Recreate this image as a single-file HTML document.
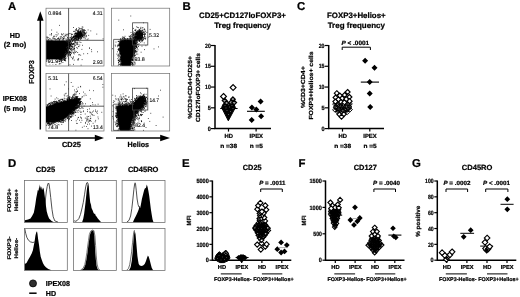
<!DOCTYPE html>
<html lang="en"><head><meta charset="utf-8"><title>Figure</title>
<style>html,body{margin:0;padding:0;background:#fff}body{width:520px;height:297px;overflow:hidden}svg{display:block;filter:blur(.35px)}text{stroke:#000;stroke-width:.22px}text.n{stroke-width:.08px}</style>
</head><body>
<svg width="520" height="297" viewBox="0 0 520 297" font-family='"Liberation Sans", sans-serif' font-weight="bold" text-rendering="geometricPrecision">
<rect width="520" height="297" fill="#fff"/>
<text x="8" y="10" font-size="11.4">A</text>
<text x="182.4" y="9.8" font-size="11.4">B</text>
<text x="297" y="10" font-size="11.4">C</text>
<text x="8" y="167.1" font-size="11.4">D</text>
<text x="182" y="167.1" font-size="11.4">E</text>
<text x="298.4" y="167.1" font-size="11.4">F</text>
<text x="412" y="167.1" font-size="11.4">G</text>
<text x="14.9" y="38.2" font-size="7.2" text-anchor="middle" textLength="10.3" lengthAdjust="spacingAndGlyphs">HD</text>
<text x="15" y="47" font-size="7.2" text-anchor="middle" textLength="22.5" lengthAdjust="spacingAndGlyphs">(2 mo)</text>
<text x="14.9" y="101.4" font-size="7.2" text-anchor="middle" textLength="24.2" lengthAdjust="spacingAndGlyphs">IPEX08</text>
<text x="14.9" y="110.5" font-size="7.2" text-anchor="middle" textLength="22.3" lengthAdjust="spacingAndGlyphs">(5 mo)</text>
<text x="34.2" y="72" font-size="7.2" text-anchor="middle" textLength="23.8" lengthAdjust="spacingAndGlyphs" transform="rotate(-90 34.2 72)">FOXP3</text>
<text x="71.5" y="147.2" font-size="7.3" text-anchor="middle" textLength="19" lengthAdjust="spacingAndGlyphs">CD25</text>
<text x="138.3" y="147.2" font-size="7.3" text-anchor="middle" textLength="21.5" lengthAdjust="spacingAndGlyphs">Helios</text>
<path d="M40.3 129.5V19" stroke="#000" stroke-width="1.5" fill="none"/>
<path d="M40.3 11.3l3.3 9.4h-6.6z" fill="#000"/>
<path d="M48 138H96" stroke="#000" stroke-width="1.5" fill="none"/>
<path d="M104 138l-9.2 3.3v-6.6z" fill="#000"/>
<path d="M116 138H161" stroke="#000" stroke-width="1.5" fill="none"/>
<path d="M170 138l-9.8 3.3v-6.6z" fill="#000"/>
<defs><filter id="bl" x="-20%" y="-20%" width="140%" height="140%"><feGaussianBlur stdDeviation="0.5"/></filter><filter id="bl2" x="-20%" y="-20%" width="140%" height="140%"><feGaussianBlur stdDeviation="0.8"/></filter><clipPath id="c1"><rect x="46" y="8.2" width="58" height="57.8"/></clipPath><clipPath id="c2"><rect x="111.6" y="8.2" width="58.3" height="57.8"/></clipPath><clipPath id="c3"><rect x="46" y="73.6" width="58" height="57.4"/></clipPath><clipPath id="c4"><rect x="111.6" y="73.6" width="58.3" height="57.4"/></clipPath></defs>
<g>
<g clip-path="url(#c1)">
<path d="M45 40.8L65.6 40.8L66.6 44L66.2 50L64.4 55L61.3 58.2L57.3 59.5L45 59.5z" fill="#000" filter="url(#bl)"/>
<path d="M66.3 44.8h.8M55.0 40.8h.8M46.5 37.3h.8M62.4 58.8h.8M56.4 59.6h.8M66.7 49.0h.8M62.8 55.9h.8M59.2 58.3h.8M65.6 51.6h.8M63.9 59.5h.8M55.5 62.2h.8M59.0 39.7h.8M53.5 59.7h.8M59.8 36.8h.8M69.5 55.1h.8M68.2 40.0h.8M64.9 54.5h.8M62.3 58.6h.8M68.4 55.3h.8M66.1 45.1h.8M53.5 38.9h.8M49.0 61.6h.8M48.1 59.3h.8M66.8 52.2h.8M67.6 44.6h.8M47.6 40.1h.8M64.1 55.7h.8M69.3 51.8h.8M70.7 39.3h.8M55.3 64.2h.8M64.4 55.6h.8M48.4 59.1h.8M62.9 58.3h.8M68.9 46.8h.8M51.2 41.3h.8M66.4 45.7h.8M51.6 60.5h.8M69.1 42.1h.8M67.6 49.1h.8M52.7 63.1h.8M68.6 40.8h.8M68.8 42.7h.8M65.7 41.1h.8M64.5 60.2h.8M67.4 45.9h.8M69.1 46.7h.8M63.7 60.4h.8M64.9 52.2h.8M61.1 41.5h.8M59.3 59.7h.8M67.6 41.8h.8M60.6 61.6h.8M63.4 57.3h.8M70.0 54.7h.8M54.2 59.9h.8M55.2 60.3h.8M59.1 40.2h.8M66.6 43.6h.8M66.4 49.7h.8M47.1 59.9h.8M68.1 45.5h.8M64.1 57.4h.8M65.6 41.8h.8M68.7 40.3h.8M65.1 54.4h.8M68.6 42.5h.8M59.4 60.0h.8M63.8 60.2h.8M67.1 52.7h.8M67.1 44.5h.8M49.0 41.1h.8M60.2 58.8h.8M66.0 44.1h.8M67.0 46.8h.8M64.3 54.1h.8M58.1 61.2h.8M67.9 52.4h.8M59.8 41.9h.8M48.8 59.9h.8M66.8 47.3h.8M50.3 61.3h.8M68.0 46.2h.8M65.1 46.7h.8M65.5 41.9h.8M62.5 56.4h.8M58.5 59.8h.8M58.4 59.9h.8M49.2 59.2h.8M68.4 55.7h.8M61.9 57.9h.8M68.0 41.5h.8M63.7 57.7h.8M48.1 61.3h.8M60.4 57.4h.8M61.0 59.9h.8M68.4 53.0h.8M63.6 54.8h.8M59.5 57.9h.8M58.5 58.3h.8M66.1 52.2h.8M65.8 47.5h.8M56.1 60.1h.8M68.0 49.0h.8M54.8 39.5h.8M65.6 49.3h.8M56.2 61.9h.8M66.8 52.4h.8M64.4 52.2h.8M65.9 49.4h.8M69.4 52.4h.8M64.5 60.4h.8M61.2 57.9h.8M68.8 44.0h.8M66.4 51.6h.8M61.1 61.3h.8M66.3 40.9h.8M66.1 44.3h.8M62.0 57.8h.8M65.5 52.7h.8M55.8 60.4h.8M54.5 58.9h.8M47.2 60.0h.8M59.7 38.9h.8M65.7 55.3h.8M54.3 60.0h.8M48.6 59.8h.8M68.0 54.3h.8M63.3 55.9h.8M62.2 57.2h.8M65.7 50.6h.8M69.3 46.9h.8M67.0 45.7h.8M69.3 44.1h.8M57.1 58.2h.8M66.6 46.8h.8M66.9 51.1h.8M54.3 59.9h.8M68.6 51.9h.8M57.4 60.5h.8M66.3 40.5h.8M46.9 59.4h.8M73.9 49.6h.8M59.7 58.9h.8M67.6 45.8h.8M55.1 61.4h.8M54.6 38.5h.8M66.0 46.5h.8M60.5 57.4h.8M54.0 58.6h.8M49.5 64.1h.8M70.1 46.0h.8M56.7 58.8h.8M55.4 60.1h.8M47.6 60.2h.8M56.0 60.3h.8M68.6 45.0h.8M65.7 42.4h.8M63.8 58.7h.8M61.0 58.5h.8M60.5 59.0h.8M67.4 43.8h.8M66.3 51.4h.8M56.4 63.5h.8M50.7 40.6h.8M50.5 60.7h.8M66.9 48.3h.8M61.9 56.5h.8M68.0 47.4h.8M51.6 40.6h.8M50.1 59.7h.8M64.8 52.9h.8M65.5 51.9h.8M67.5 47.9h.8M67.2 51.1h.8M63.5 38.0h.8M66.6 51.3h.8M62.9 59.3h.8M66.8 41.8h.8M67.0 41.6h.8M52.9 61.1h.8M54.5 60.9h.8M55.1 59.1h.8M67.6 41.5h.8M56.9 41.2h.8M62.7 56.5h.8M67.3 53.6h.8M57.7 39.8h.8M58.4 59.4h.8M65.2 42.2h.8M66.2 50.4h.8M66.1 50.1h.8M55.9 64.0h.8M71.6 50.7h.8M54.8 59.9h.8M62.5 62.5h.8M55.2 63.9h.8M64.5 51.0h.8M67.5 43.7h.8M69.9 41.2h.8M50.1 63.5h.8M64.6 57.1h.8M50.1 61.0h.8M62.2 60.2h.8M62.8 59.2h.8M48.2 39.7h.8M65.1 54.1h.8M51.9 40.2h.8M67.1 47.5h.8M66.3 43.4h.8M68.1 42.0h.8M58.3 38.4h.8M64.8 58.8h.8M55.9 39.8h.8M61.5 38.2h.8M65.8 47.8h.8M54.7 59.8h.8M48.0 60.9h.8M59.0 57.8h.8M68.2 44.6h.8M57.9 58.9h.8M50.6 60.7h.8M54.4 58.7h.8M57.6 58.8h.8M53.4 59.2h.8M58.7 64.0h.8M58.8 61.7h.8M66.6 48.2h.8M68.8 39.5h.8M58.9 61.5h.8M47.4 60.0h.8M63.8 55.7h.8M65.8 46.3h.8M67.4 48.3h.8M49.2 60.2h.8M66.1 54.0h.8M56.5 61.4h.8M48.7 41.1h.8M69.9 55.9h.8M65.6 48.7h.8M60.4 63.7h.8M67.1 43.0h.8M68.9 52.6h.8M57.4 59.2h.8M65.3 54.7h.8M61.4 56.7h.8M69.1 42.9h.8M65.3 42.3h.8M54.1 61.6h.8M57.7 59.1h.8M64.0 55.5h.8M47.9 63.5h.8M47.8 62.3h.8M66.7 47.4h.8M65.2 54.0h.8M63.8 57.6h.8M52.1 61.5h.8M66.1 51.4h.8M49.1 63.5h.8M67.9 48.1h.8M64.0 56.2h.8M64.0 57.7h.8M52.5 64.1h.8M56.6 39.4h.8M68.8 42.0h.8M65.5 53.8h.8M68.0 48.5h.8M66.1 43.9h.8M53.5 41.2h.8M66.8 45.6h.8M69.3 48.7h.8M66.8 43.2h.8M68.4 50.1h.8M47.3 60.3h.8M53.3 58.9h.8M65.8 51.7h.8M66.2 45.4h.8M65.9 53.7h.8M62.5 40.0h.8M65.4 44.1h.8M59.7 57.7h.8M66.7 48.9h.8M66.9 43.8h.8M57.5 59.8h.8M64.7 60.3h.8M63.1 54.9h.8M66.4 50.9h.8M64.4 60.5h.8M57.6 58.6h.8M55.9 61.0h.8M58.0 61.6h.8M65.3 52.4h.8M65.7 49.1h.8M61.8 57.4h.8M54.0 61.1h.8M71.2 53.6h.8M65.7 46.0h.8M64.5 59.6h.8M50.7 40.3h.8M50.2 61.1h.8M64.6 59.0h.8M60.9 58.6h.8M68.4 44.7h.8M60.2 59.4h.8M69.2 46.7h.8M62.6 59.1h.8M50.6 59.7h.8M53.5 36.8h.8M68.3 51.0h.8M67.9 40.5h.8M65.4 43.3h.8M59.7 58.2h.8M58.3 59.6h.8M65.3 60.9h.8M60.9 58.9h.8M56.0 60.5h.8M68.6 51.3h.8M66.6 54.1h.8M64.8 58.4h.8M47.2 61.0h.8M57.8 59.4h.8M47.0 60.7h.8M65.5 54.0h.8M53.7 60.7h.8M47.0 60.7h.8M57.5 59.0h.8M62.7 57.6h.8M64.4 59.0h.8M65.8 48.8h.8M61.0 60.6h.8M50.6 61.6h.8M65.9 48.2h.8M65.4 52.3h.8M66.3 42.5h.8M62.6 56.4h.8M51.4 58.5h.8M52.4 63.0h.8M66.8 43.9h.8M69.2 40.3h.8M56.6 60.3h.8M66.1 44.5h.8M60.4 60.5h.8M46.5 58.9h.8M48.1 62.6h.8M59.2 63.7h.8M62.4 57.7h.8M66.1 50.7h.8M60.6 58.2h.8M67.3 50.0h.8M69.9 41.2h.8M68.1 52.5h.8M63.7 55.1h.8M66.2 43.5h.8M65.9 41.6h.8M66.9 50.0h.8M63.4 40.6h.8M67.0 45.7h.8M46.3 59.9h.8M60.7 58.4h.8M53.4 58.8h.8M66.2 46.3h.8M64.9 55.8h.8M68.6 40.2h.8M68.9 45.5h.8M68.4 44.4h.8M61.4 58.6h.8M67.7 50.5h.8M53.9 60.1h.8M67.8 54.1h.8M67.4 53.6h.8M68.0 48.6h.8M63.0 38.9h.8M64.8 54.8h.8M65.3 44.2h.8M61.2 62.0h.8M62.8 56.6h.8M47.5 40.5h.8M66.9 45.1h.8M66.4 42.3h.8M65.5 54.8h.8M72.2 46.8h.8M46.4 61.4h.8M65.3 56.4h.8M48.3 37.7h.8M46.8 59.0h.8M63.6 56.3h.8M64.3 56.4h.8M53.4 60.0h.8M50.7 61.9h.8M63.8 55.5h.8M66.2 45.5h.8M49.5 62.1h.8M66.0 52.9h.8M66.1 45.5h.8M52.6 38.5h.8M63.2 57.4h.8M71.9 39.1h.8M52.6 37.7h.8M47.9 60.0h.8M69.3 48.2h.8M59.3 61.3h.8M49.0 59.3h.8M58.9 59.3h.8M63.4 56.4h.8M69.3 53.4h.8M66.2 53.4h.8M65.7 52.2h.8M66.7 42.4h.8M47.4 58.9h.8M64.6 54.5h.8M47.8 59.2h.8M62.8 56.9h.8M67.8 49.8h.8M67.7 41.9h.8M51.3 60.6h.8M52.7 62.9h.8M47.2 59.1h.8M49.2 61.8h.8M71.4 40.0h.8M67.8 45.7h.8M65.3 56.5h.8M67.9 48.3h.8M60.3 57.8h.8M73.6 48.3h.8M66.8 40.7h.8M69.3 40.6h.8M59.5 59.2h.8M63.9 56.6h.8M63.3 36.4h.8M69.2 44.8h.8M66.4 49.9h.8M65.2 55.0h.8M60.7 59.7h.8M70.1 45.0h.8M53.8 59.7h.8M65.4 50.5h.8M66.1 45.0h.8M59.9 59.8h.8M65.7 42.0h.8M55.2 60.0h.8M65.2 54.8h.8M70.8 52.1h.8M50.2 59.6h.8M55.8 60.1h.8M68.2 48.6h.8M67.2 51.3h.8M67.8 48.1h.8M67.5 44.2h.8M66.4 43.5h.8M46.3 60.9h.8M58.9 40.6h.8M61.0 59.4h.8M66.3 58.0h.8M67.8 46.0h.8M50.5 59.0h.8M64.6 53.4h.8M66.2 44.3h.8M49.7 38.8h.8M61.7 60.0h.8M58.2 58.6h.8M49.0 60.1h.8M64.9 58.3h.8M56.0 59.5h.8M58.4 58.8h.8M64.8 57.2h.8M65.7 51.1h.8M66.9 45.4h.8M52.6 60.3h.8M70.3 49.4h.8M67.8 42.9h.8M66.5 41.2h.8M50.7 40.0h.8M69.0 46.7h.8M50.0 58.9h.8M65.8 50.9h.8M61.1 57.2h.8M70.2 44.8h.8M66.6 48.2h.8M67.3 42.7h.8M53.2 62.2h.8M64.1 54.0h.8M72.9 44.4h.8M70.3 52.5h.8M63.6 44.1h.8M71.6 44.6h.8M72.0 40.7h.8M69.4 43.4h.8M63.3 38.5h.8M74.0 41.6h.8M69.7 41.5h.8M71.2 42.8h.8M72.6 46.5h.8M65.7 48.6h.8M66.5 45.5h.8M72.9 36.9h.8M68.9 42.3h.8M71.4 38.6h.8M66.4 49.1h.8M68.7 43.6h.8M72.0 38.5h.8M69.7 44.8h.8M70.7 41.1h.8M78.4 46.4h.8M73.2 49.2h.8M66.9 52.5h.8M69.7 44.7h.8M68.1 42.8h.8M65.7 45.8h.8M76.9 43.0h.8M68.3 43.1h.8M65.8 42.3h.8M77.5 40.5h.8M69.8 42.0h.8M70.1 49.4h.8M70.9 39.1h.8M71.2 38.2h.8M70.5 39.4h.8M70.3 45.8h.8M74.0 44.9h.8M71.2 49.6h.8M74.6 40.0h.8M70.3 40.3h.8M67.3 40.6h.8M71.2 43.8h.8M76.6 42.4h.8M72.3 40.5h.8M69.1 43.2h.8M67.1 38.1h.8M69.6 37.6h.8M69.0 44.9h.8M72.4 49.0h.8M73.5 47.7h.8M73.1 39.2h.8M74.5 45.7h.8M69.7 44.6h.8M68.9 45.1h.8M69.6 44.6h.8M76.5 44.4h.8M71.3 43.7h.8M72.5 40.6h.8M69.6 49.0h.8M69.6 48.2h.8M71.4 50.6h.8M69.1 48.3h.8M73.1 37.2h.8M73.4 37.6h.8M66.6 49.9h.8M72.2 41.2h.8M62.6 49.9h.8M68.8 43.3h.8M65.8 39.8h.8M72.5 49.5h.8M74.5 38.6h.8M69.1 46.3h.8M75.3 42.6h.8M67.2 46.9h.8M74.0 46.7h.8M75.3 41.7h.8M73.4 39.4h.8M74.4 38.4h.8M73.6 44.8h.8M66.2 44.1h.8M65.4 48.5h.8M69.6 42.8h.8M67.6 36.9h.8M70.6 43.8h.8M71.3 46.2h.8M75.0 37.8h.8M66.3 44.4h.8M72.0 44.7h.8M69.9 48.2h.8M69.1 48.2h.8M72.8 43.6h.8M76.6 37.2h.8M71.0 45.1h.8M70.4 37.9h.8M69.8 40.9h.8M75.3 45.3h.8M70.4 43.1h.8M64.9 35.6h.8M74.1 42.9h.8M70.2 42.1h.8M67.9 44.9h.8M74.0 40.1h.8M69.3 33.6h.8M69.7 45.4h.8M67.0 39.4h.8M71.1 48.3h.8M64.4 44.4h.8M66.0 45.0h.8M73.7 43.3h.8M67.3 52.4h.8M67.4 43.6h.8M75.5 39.0h.8M65.3 45.1h.8M66.1 42.9h.8M71.3 46.6h.8M68.7 39.1h.8M77.0 33.8h.8M70.9 43.3h.8M72.2 40.7h.8M76.3 47.6h.8M68.5 40.5h.8M69.8 40.6h.8M69.8 44.9h.8M70.9 41.9h.8M72.7 40.8h.8M68.3 49.1h.8M71.9 47.5h.8M69.7 46.6h.8M65.8 35.9h.8M63.5 44.6h.8M70.9 35.1h.8M75.6 43.9h.8M73.4 43.9h.8M68.9 44.8h.8M72.1 44.0h.8M72.3 41.2h.8M67.2 43.9h.8M68.3 38.3h.8M65.8 45.7h.8M68.2 44.3h.8M61.6 49.5h.8M71.4 46.1h.8M63.7 47.9h.8M73.0 43.5h.8M76.4 43.0h.8M68.6 47.8h.8M67.8 42.4h.8M73.9 37.9h.8M67.0 44.7h.8M67.9 57.8h.8M73.8 60.1h.8M74.0 48.5h.8M77.0 48.2h.8M69.8 51.0h.8M72.2 58.9h.8M69.1 54.0h.8M71.9 44.7h.8M66.7 50.7h.8M73.9 53.9h.8M74.3 52.3h.8M69.8 54.5h.8M67.2 44.2h.8M70.4 43.7h.8M69.5 47.7h.8M69.3 51.7h.8M68.1 49.6h.8M63.8 52.8h.8M67.8 54.3h.8M58.4 47.4h.8M73.2 37.9h.8M70.3 52.5h.8M72.5 43.3h.8M73.1 52.9h.8M67.3 56.3h.8M71.8 52.1h.8M69.8 55.2h.8M72.5 58.6h.8M74.2 48.4h.8M70.9 57.3h.8M70.2 54.2h.8M74.5 51.0h.8M60.8 52.8h.8M73.0 52.8h.8M68.3 59.0h.8M71.3 48.4h.8M68.5 54.1h.8M66.7 46.2h.8M81.7 59.6h.8M77.1 59.9h.8M74.9 42.2h.8M77.8 59.2h.8M74.4 40.6h.8M78.0 59.9h.8M69.6 52.7h.8M75.8 51.5h.8M77.3 52.5h.8M75.3 52.5h.8M64.8 46.2h.8M87.3 53.6h.8M78.3 58.6h.8M80.3 55.2h.8M69.1 52.1h.8M62.7 50.9h.8M76.4 39.4h.8M73.0 56.8h.8M78.4 46.6h.8M68.8 41.1h.8M67.1 55.1h.8M82.0 45.3h.8M78.7 54.5h.8M69.6 64.8h.8M59.8 51.6h.8M73.1 64.4h.8M80.7 65.2h.8M72.7 57.7h.8M78.6 55.0h.8M73.7 50.9h.8M70.0 44.8h.8M81.5 49.4h.8M49.7 43.1h.8M77.5 42.1h.8M102.7 38.8h.8M74.4 31.3h.8M77.7 34.9h.8M83.4 30.0h.8M89.1 48.3h.8M89.2 47.9h.8M97.2 51.8h.8M96.4 34.1h.8M78.0 31.5h.8M91.0 49.7h.8M71.7 46.8h.8M62.8 38.9h.8M86.7 39.6h.8M83.3 53.8h.8M82.5 27.2h.8M87.7 38.9h.8M79.6 33.4h.8M59.1 25.4h.8M73.2 27.5h.8M46.3 53.4h.8M62.2 34.8h.8M91.3 51.7h.8M75.7 30.7h.8M62.7 41.8h.8M77.6 39.8h.8M58.3 38.1h.8M55.6 34.7h.8M53.6 36.6h.8M62.6 39.9h.8M67.0 37.6h.8M46.3 40.0h.8M61.3 34.7h.8M51.0 33.9h.8M75.1 40.5h.8M58.1 38.2h.8M51.3 30.0h.8M46.6 36.8h.8M67.8 33.8h.8M65.6 34.2h.8M63.3 33.8h.8M51.1 35.0h.8M66.9 34.9h.8M56.7 35.1h.8M54.4 38.8h.8M53.7 36.0h.8M49.6 34.8h.8M58.7 39.9h.8M70.5 33.6h.8M56.5 32.2h.8M55.8 36.6h.8M62.3 37.7h.8M51.0 33.6h.8M47.9 40.3h.8M49.3 38.8h.8M59.8 38.7h.8M46.8 37.5h.8M60.8 36.5h.8M61.3 33.8h.8M67.9 33.9h.8M57.0 38.5h.8M61.7 40.2h.8M57.8 33.9h.8M60.5 37.7h.8M46.7 38.6h.8M66.5 34.5h.8M64.3 36.7h.8M64.7 35.2h.8M63.8 38.1h.8" stroke="#000" stroke-width=".8" fill="none"/>
<path d="M78.6 34.2h.8M79.2 36.2h.8M82.0 32.2h.8M81.0 33.5h.8M84.7 33.6h.8M81.1 34.2h.8M75.8 33.1h.8M79.9 32.3h.8M78.4 37.6h.8M78.3 32.6h.8M81.3 32.4h.8M79.9 31.4h.8M74.6 36.3h.8M78.4 30.2h.8M77.3 38.2h.8M84.4 30.3h.8M76.1 35.6h.8M78.7 38.6h.8M79.5 32.1h.8M78.3 29.9h.8M78.9 34.7h.8M77.2 33.7h.8M75.2 32.8h.8M78.8 32.5h.8M81.1 35.2h.8M75.8 34.0h.8M79.7 35.8h.8M75.6 36.9h.8M78.1 38.9h.8M77.9 31.5h.8M77.5 35.8h.8M77.7 35.7h.8M80.0 34.5h.8M79.4 37.8h.8M80.5 32.8h.8M77.7 33.9h.8M75.0 36.6h.8M78.5 34.1h.8M73.0 31.4h.8M75.5 39.1h.8M75.0 38.8h.8M80.4 33.4h.8M79.7 36.1h.8M78.6 34.8h.8M80.8 33.3h.8M82.2 29.7h.8M77.5 35.0h.8M78.4 33.4h.8M84.0 32.7h.8M74.3 37.9h.8M81.7 35.6h.8M78.8 32.9h.8M79.2 31.3h.8M77.6 32.7h.8M82.8 33.7h.8M83.5 30.7h.8M78.0 34.2h.8M80.3 31.1h.8M80.1 33.1h.8M80.8 34.0h.8M76.4 35.4h.8M73.6 36.2h.8M78.5 37.4h.8M78.1 35.9h.8M76.7 33.1h.8M82.4 37.0h.8M81.6 35.8h.8M81.3 35.4h.8M81.8 28.7h.8M75.5 33.5h.8M78.4 34.2h.8M77.6 36.8h.8M84.8 34.0h.8M83.2 32.1h.8M81.5 36.4h.8M82.3 34.8h.8M77.6 34.6h.8M78.7 37.9h.8M77.0 36.5h.8M79.4 34.2h.8M78.6 36.0h.8M77.3 36.2h.8M81.3 31.7h.8M83.0 34.9h.8M82.1 30.4h.8M84.1 33.6h.8M83.4 34.0h.8M79.6 36.6h.8M78.8 33.7h.8M77.0 35.0h.8M76.7 32.4h.8M78.1 32.0h.8M81.9 36.0h.8M83.6 35.4h.8M85.3 36.1h.8M77.7 33.6h.8M77.4 33.5h.8M79.4 28.8h.8M80.0 36.3h.8M81.3 35.2h.8M75.9 35.8h.8M79.1 35.8h.8M82.0 36.3h.8M76.3 37.3h.8M85.7 33.2h.8M80.5 35.8h.8M79.9 37.4h.8M78.6 37.0h.8M78.6 33.2h.8M79.3 34.4h.8M77.5 36.2h.8M78.2 38.1h.8M81.3 35.6h.8M80.9 34.1h.8M75.4 36.6h.8M78.4 34.0h.8M78.3 34.3h.8M76.8 34.2h.8M76.6 33.8h.8M81.6 33.6h.8M81.0 35.3h.8M79.3 37.2h.8M74.1 36.7h.8M80.9 37.5h.8M82.5 34.3h.8M80.1 32.7h.8M77.9 34.0h.8M77.8 32.7h.8M77.7 34.5h.8M79.3 33.1h.8M80.3 35.0h.8M81.0 35.3h.8M76.9 36.4h.8M79.8 36.8h.8M78.2 36.0h.8M75.5 36.4h.8M77.2 35.9h.8M77.4 35.7h.8M78.3 32.8h.8M80.0 32.7h.8M84.9 33.3h.8M80.5 33.9h.8M82.4 33.1h.8M75.9 38.5h.8M76.8 30.5h.8M76.4 39.8h.8M78.9 33.1h.8M73.6 36.0h.8M79.9 28.7h.8M82.8 37.8h.8M78.2 33.1h.8M80.8 35.0h.8M79.6 33.9h.8M75.9 38.2h.8M81.1 34.2h.8M80.2 34.2h.8M84.8 38.9h.8M77.9 36.1h.8M74.2 33.8h.8M80.5 37.0h.8M76.1 35.6h.8M76.0 33.4h.8M75.7 37.2h.8M77.6 35.2h.8M78.2 38.5h.8M83.2 29.9h.8M76.7 39.3h.8M84.4 35.7h.8M76.7 36.1h.8M74.8 38.6h.8M73.8 34.1h.8M81.1 34.3h.8M73.2 36.8h.8M81.8 26.9h.8M79.9 38.8h.8M83.2 32.2h.8M77.5 36.7h.8M77.7 36.4h.8M81.4 33.2h.8M83.0 35.0h.8M76.5 35.8h.8M76.9 37.0h.8M73.6 36.1h.8M74.2 39.2h.8M78.1 38.3h.8M81.1 34.3h.8M75.1 33.5h.8M76.3 36.6h.8M78.4 34.7h.8M80.4 37.1h.8M80.2 30.9h.8M79.4 32.3h.8M79.6 34.7h.8M81.9 34.6h.8M75.9 36.5h.8M79.5 33.8h.8M80.9 30.0h.8M80.2 34.2h.8M77.5 35.4h.8M78.5 35.7h.8M77.1 35.2h.8M84.2 29.9h.8M81.3 35.6h.8M77.6 37.5h.8M74.5 31.7h.8M75.4 29.9h.8M79.3 36.2h.8M83.7 32.9h.8M82.0 34.1h.8M80.0 36.5h.8M78.2 35.9h.8M76.8 35.5h.8M77.5 31.1h.8M76.2 34.3h.8M80.8 38.1h.8M76.4 36.0h.8M77.1 34.1h.8M78.0 37.6h.8M77.4 34.0h.8M75.0 35.4h.8M79.7 31.8h.8M73.1 36.5h.8M79.2 35.3h.8M79.6 36.1h.8M74.5 35.3h.8M77.9 35.5h.8M73.5 37.9h.8M75.9 39.0h.8M81.1 37.1h.8M83.8 32.4h.8M76.7 33.6h.8M78.3 37.5h.8M79.5 34.3h.8M75.0 36.6h.8M82.4 31.5h.8M78.9 28.8h.8M80.7 30.8h.8M74.8 36.5h.8M78.5 38.8h.8M77.6 34.9h.8M76.2 39.6h.8M84.1 34.5h.8M71.0 39.3h.8M76.1 29.0h.8M78.7 38.4h.8M84.5 32.7h.8M82.6 35.5h.8M75.6 29.7h.8M86.3 32.2h.8M75.8 33.7h.8M87.7 29.9h.8M80.6 32.1h.8M78.6 34.9h.8M78.5 27.7h.8M84.8 30.5h.8M82.4 36.1h.8M76.9 39.2h.8M73.3 39.5h.8M76.3 40.6h.8M81.3 28.4h.8M77.5 32.8h.8M71.7 39.4h.8M83.8 35.7h.8M74.9 36.5h.8M83.4 31.4h.8M88.3 35.4h.8M78.4 32.0h.8M77.8 38.6h.8M76.8 36.5h.8M76.6 30.3h.8M75.1 35.9h.8M74.5 38.7h.8M75.2 35.6h.8M86.1 35.4h.8M75.7 34.8h.8M68.0 35.3h.8M83.9 31.3h.8M71.7 34.5h.8M81.9 31.4h.8M81.7 36.3h.8M71.7 34.3h.8M78.0 37.3h.8M76.4 36.0h.8M77.4 32.1h.8M82.1 36.2h.8M71.5 36.7h.8M74.7 35.1h.8M78.4 39.2h.8M72.6 40.6h.8M74.6 34.9h.8M68.0 34.2h.8M80.4 39.1h.8M75.1 40.0h.8M73.4 40.3h.8M75.7 35.5h.8M70.8 38.3h.8M78.1 40.3h.8M80.9 34.9h.8M75.4 38.1h.8M83.1 36.9h.8M84.7 37.9h.8M75.0 33.8h.8M86.1 36.7h.8M81.4 33.1h.8M77.6 34.4h.8M76.3 36.6h.8M77.2 31.5h.8M79.9 34.6h.8M77.3 37.0h.8M76.7 37.4h.8M82.8 30.4h.8M79.9 31.8h.8M77.1 36.9h.8M77.1 40.0h.8M71.3 39.4h.8M77.8 35.9h.8M75.1 33.5h.8M80.3 39.1h.8M79.8 33.5h.8M70.9 36.8h.8M79.8 32.0h.8M80.5 42.5h.8M69.6 44.8h.8M65.6 38.8h.8M90.4 30.9h.8M81.4 36.1h.8M80.2 31.6h.8M70.5 37.4h.8M79.7 35.8h.8M81.6 32.5h.8M80.4 33.5h.8M72.0 37.4h.8M78.7 34.4h.8M75.2 37.1h.8M81.7 29.8h.8M67.4 42.9h.8M70.6 46.3h.8M74.7 37.6h.8M76.6 36.7h.8M80.6 37.9h.8M72.1 37.7h.8M75.0 36.3h.8M76.1 28.8h.8M68.5 41.9h.8M79.9 35.9h.8M84.1 37.0h.8M72.8 37.5h.8M79.4 36.4h.8M79.8 35.1h.8M77.5 44.6h.8M78.0 36.8h.8M73.9 39.3h.8M77.9 39.6h.8M80.1 31.5h.8M77.9 35.7h.8M81.3 38.5h.8M79.4 45.0h.8M71.4 34.4h.8M78.1 30.2h.8M83.5 32.9h.8M77.4 38.7h.8M76.7 33.2h.8M79.4 42.0h.8M78.9 35.9h.8M77.3 44.0h.8M79.6 33.0h.8M76.5 34.2h.8M84.7 34.3h.8M74.1 36.6h.8M76.0 37.3h.8" stroke="#000" stroke-width=".8" fill="none"/>
<ellipse cx="79" cy="34.9" rx="2.8" ry="2.0" transform="rotate(-35 79 34.9)" fill="#000" filter="url(#bl)" opacity=".9"/>
</g>
<rect x="46" y="8.2" width="58" height="57.8" fill="none" stroke="#6e6e6e" stroke-width=".7"/>
<path d="M68.6 8.2L68.6 66" stroke="#333" stroke-width=".8" fill="none"/>
<path d="M46 40.3L104 40.3" stroke="#333" stroke-width=".8" fill="none"/>
<rect x="47.2" y="59.4" width="11.4" height="4.8" fill="#fff" stroke="none" stroke-width=".7"/>
<text class="n" x="48.2" y="15" font-size="5.4" font-weight="normal" fill="#000" textLength="13.2" lengthAdjust="spacingAndGlyphs">0.894</text>
<text class="n" x="102.5" y="15" font-size="5.4" font-weight="normal" fill="#000" text-anchor="end" textLength="9.8" lengthAdjust="spacingAndGlyphs">4.31</text>
<text class="n" x="47.8" y="63.4" font-size="5.4" font-weight="normal" fill="#000" textLength="10.4" lengthAdjust="spacingAndGlyphs">91.9</text>
<text class="n" x="102.7" y="63.6" font-size="5.4" font-weight="normal" fill="#000" text-anchor="end" textLength="10" lengthAdjust="spacingAndGlyphs">2.93</text>
</g>
<g>
<g clip-path="url(#c2)">
<path d="M119.4 44.5L120.2 41.2L123.6 40.2L131 40.2L134.2 41.4L134.9 45.5L133.7 52L131.6 58.5L130.4 67L122.2 67L120.6 55z" fill="#000" filter="url(#bl)"/>
<path d="M137.9 46.4h.8M127.2 38.7h.8M122.1 40.0h.8M133.8 50.0h.8M134.3 53.2h.8M120.8 40.8h.8M122.1 58.8h.8M123.2 40.6h.8M120.8 53.1h.8M123.7 39.7h.8M122.2 65.4h.8M121.7 54.9h.8M120.7 60.7h.8M121.6 39.7h.8M117.8 41.4h.8M128.1 40.4h.8M130.4 39.6h.8M119.5 45.9h.8M135.9 44.7h.8M117.9 44.2h.8M132.0 63.2h.8M120.3 47.7h.8M119.5 58.6h.8M121.1 53.0h.8M121.9 63.5h.8M132.5 59.0h.8M118.4 57.0h.8M133.9 45.9h.8M121.0 51.8h.8M134.1 59.5h.8M134.5 62.2h.8M131.7 63.0h.8M119.5 47.5h.8M121.0 55.0h.8M118.9 53.6h.8M121.3 63.6h.8M122.5 64.5h.8M134.9 63.9h.8M119.8 39.9h.8M131.2 57.9h.8M121.4 65.1h.8M131.9 57.2h.8M136.1 51.7h.8M121.1 58.4h.8M130.4 39.7h.8M124.3 39.3h.8M134.0 49.3h.8M121.2 53.5h.8M122.3 65.3h.8M125.7 39.5h.8M133.1 50.2h.8M134.5 50.1h.8M119.6 42.3h.8M127.2 39.5h.8M127.1 40.0h.8M121.3 40.9h.8M131.3 59.4h.8M117.1 46.7h.8M133.8 53.4h.8M134.7 39.3h.8M122.0 40.9h.8M130.9 39.6h.8M120.3 42.7h.8M130.6 60.5h.8M132.3 60.2h.8M136.7 51.7h.8M125.3 40.5h.8M121.2 50.4h.8M132.6 55.2h.8M119.6 49.0h.8M136.1 54.1h.8M133.8 47.3h.8M131.7 55.1h.8M119.9 53.5h.8M132.9 54.7h.8M119.6 44.5h.8M116.5 54.1h.8M135.4 45.6h.8M120.6 58.9h.8M134.2 39.6h.8M124.6 39.4h.8M128.6 41.0h.8M131.6 56.3h.8M121.4 59.6h.8M118.3 64.6h.8M118.1 45.9h.8M133.1 49.4h.8M130.8 40.0h.8M137.8 46.4h.8M119.9 61.9h.8M120.3 42.5h.8M120.6 59.6h.8M120.8 53.2h.8M123.5 37.7h.8M119.9 43.5h.8M131.5 39.7h.8M114.8 45.1h.8M133.7 53.9h.8M120.3 41.0h.8M121.7 63.8h.8M130.5 37.7h.8M128.5 39.1h.8M121.0 57.5h.8M131.6 59.8h.8M128.2 41.0h.8M135.1 43.7h.8M135.9 43.5h.8M134.1 40.9h.8M136.3 42.0h.8M132.4 59.9h.8M119.9 49.8h.8M133.6 56.0h.8M124.0 38.8h.8M132.9 41.7h.8M120.8 63.1h.8M119.2 48.4h.8M120.2 40.8h.8M132.1 56.1h.8M133.3 52.1h.8M120.2 54.1h.8M120.2 39.3h.8M124.7 40.4h.8M134.1 40.1h.8M120.4 56.5h.8M135.1 43.5h.8M125.3 40.0h.8M131.6 41.5h.8M130.2 40.4h.8M127.0 40.4h.8M131.4 59.0h.8M136.7 44.4h.8M134.3 47.7h.8M119.6 51.1h.8M120.3 64.6h.8M119.9 57.5h.8M134.4 51.4h.8M135.1 51.5h.8M130.7 40.5h.8M118.0 49.3h.8M120.7 57.4h.8M120.8 41.1h.8M131.6 38.5h.8M134.8 50.6h.8M119.6 49.1h.8M120.7 61.1h.8M126.1 41.3h.8M122.5 65.4h.8M121.7 61.8h.8M121.2 57.8h.8M134.4 41.0h.8M134.1 50.0h.8M122.2 64.7h.8M130.4 39.1h.8M119.4 51.2h.8M120.2 45.5h.8M119.5 49.1h.8M132.2 60.8h.8M131.9 55.1h.8M122.3 64.1h.8M128.1 40.2h.8M121.4 58.2h.8M117.4 55.9h.8M122.9 39.5h.8M133.4 56.2h.8M124.7 41.1h.8M133.4 42.0h.8M133.2 53.1h.8M118.6 50.1h.8M124.4 40.5h.8M119.6 51.0h.8M135.8 46.7h.8M120.8 42.3h.8M135.0 48.5h.8M120.7 58.6h.8M121.9 59.7h.8M119.4 49.6h.8M133.5 55.0h.8M131.1 62.5h.8M129.9 64.9h.8M118.8 49.3h.8M122.3 64.5h.8M122.1 64.7h.8M133.8 41.2h.8M117.9 54.3h.8M128.7 40.3h.8M121.1 59.5h.8M120.2 38.8h.8M125.0 40.8h.8M119.0 51.1h.8M134.4 42.1h.8M125.2 39.6h.8M132.3 56.5h.8M118.7 60.3h.8M134.4 52.1h.8M131.6 59.2h.8M120.2 57.2h.8M121.4 62.0h.8M118.6 45.2h.8M134.4 43.3h.8M117.8 55.3h.8M122.1 63.8h.8M134.3 45.6h.8M123.0 65.2h.8M134.9 52.1h.8M120.5 39.3h.8M134.0 39.2h.8M131.8 56.5h.8M118.2 45.2h.8M130.3 65.2h.8M118.5 50.4h.8M128.7 36.2h.8M128.2 39.0h.8M120.4 43.3h.8M121.0 63.2h.8M125.0 40.4h.8M130.2 38.3h.8M133.9 42.0h.8M118.5 59.4h.8M119.9 46.8h.8M133.3 39.3h.8M117.9 60.5h.8M126.9 39.6h.8M121.7 60.2h.8M134.0 52.2h.8M133.4 48.5h.8M124.6 40.9h.8M120.4 63.0h.8M120.1 52.1h.8M119.7 43.1h.8M120.3 59.4h.8M121.2 58.9h.8M133.3 43.8h.8M120.3 48.4h.8M123.0 65.5h.8M118.6 49.9h.8M122.5 36.7h.8M121.7 64.2h.8M119.0 44.8h.8M129.4 39.1h.8M124.4 40.6h.8M120.5 65.2h.8M130.4 58.4h.8M132.9 41.3h.8M135.1 55.6h.8M133.2 41.2h.8M131.8 59.7h.8M134.9 46.1h.8M119.2 52.3h.8M134.2 44.7h.8M130.0 38.8h.8M131.9 59.4h.8M121.8 60.9h.8M134.2 56.8h.8M135.5 47.2h.8M120.4 51.3h.8M119.3 61.6h.8M128.6 40.9h.8M134.5 45.2h.8M128.9 39.2h.8M120.3 54.3h.8M121.7 38.2h.8M122.5 62.5h.8M119.1 44.4h.8M132.2 59.9h.8M118.9 45.0h.8M132.4 60.2h.8M131.7 55.4h.8M133.8 55.8h.8M135.4 44.8h.8M134.1 53.8h.8M134.5 50.1h.8M120.9 64.4h.8M121.0 57.9h.8M121.0 59.0h.8M120.5 39.9h.8M134.3 56.9h.8M129.7 40.3h.8M137.0 48.0h.8M120.6 50.1h.8M120.8 53.4h.8M134.7 51.0h.8M129.7 40.3h.8M133.8 48.9h.8M135.6 48.0h.8M121.6 58.9h.8M122.0 60.0h.8M133.1 40.4h.8M119.0 42.9h.8M125.8 38.9h.8M120.3 53.6h.8M130.0 61.9h.8M122.7 63.3h.8M136.0 47.5h.8M117.9 49.2h.8M120.7 61.5h.8M132.8 53.2h.8M131.7 55.3h.8M131.9 58.3h.8M119.7 52.8h.8M134.3 50.1h.8M134.7 46.2h.8M134.5 43.2h.8M134.6 48.4h.8M121.5 61.6h.8M121.9 62.0h.8M134.2 41.0h.8M125.0 38.7h.8M133.0 40.2h.8M135.3 43.5h.8M131.7 59.8h.8M119.3 60.3h.8M122.0 60.6h.8M119.9 59.4h.8M117.9 41.3h.8M129.7 40.0h.8M119.6 50.8h.8M130.1 38.1h.8M135.9 45.9h.8M135.1 42.9h.8M117.0 45.3h.8M120.4 57.9h.8M117.7 49.6h.8M133.5 57.3h.8M120.7 52.2h.8M136.9 47.9h.8M134.2 49.0h.8M120.7 51.0h.8M119.8 59.7h.8M133.3 55.1h.8M121.9 62.8h.8M132.9 54.1h.8M133.7 51.9h.8M131.0 64.2h.8M134.9 44.9h.8M118.5 55.4h.8M134.6 48.7h.8M125.0 39.7h.8M134.0 55.4h.8M119.9 53.2h.8M130.6 63.3h.8M133.8 38.6h.8M134.1 52.8h.8M118.8 43.6h.8M131.9 40.5h.8M120.4 58.2h.8M129.0 40.7h.8M124.3 40.8h.8M135.7 41.5h.8M132.4 54.4h.8M136.3 51.9h.8M131.5 62.8h.8M121.9 41.5h.8M118.4 41.7h.8M136.7 43.7h.8M130.2 63.8h.8M130.3 61.5h.8M135.0 44.3h.8M121.6 62.5h.8M127.3 39.8h.8M134.1 48.4h.8M118.0 62.6h.8M123.6 37.5h.8M121.1 63.8h.8M134.1 51.6h.8M120.2 42.8h.8M133.3 64.8h.8M133.2 51.7h.8M127.1 40.3h.8M133.5 47.3h.8M122.6 37.8h.8M118.8 54.4h.8M134.5 43.3h.8M134.4 43.4h.8M120.6 60.7h.8M132.1 55.5h.8M136.2 45.8h.8M119.8 52.8h.8M132.1 65.2h.8M120.7 53.0h.8M131.5 56.5h.8M134.0 48.4h.8M120.1 59.0h.8M119.2 45.4h.8M131.6 57.7h.8M118.4 57.0h.8M134.7 54.8h.8M120.0 65.2h.8M126.3 39.9h.8M120.7 51.3h.8M135.5 42.3h.8M120.3 51.4h.8M132.0 40.6h.8M132.3 53.9h.8M134.0 51.4h.8M121.3 57.3h.8M121.3 64.9h.8M122.0 60.2h.8M135.9 46.6h.8M118.7 48.3h.8M134.6 57.4h.8M130.3 64.9h.8M127.1 38.7h.8M119.9 50.8h.8M124.1 38.1h.8M134.1 55.3h.8M130.8 60.5h.8M135.0 50.3h.8M125.6 40.5h.8M121.9 40.5h.8M132.0 63.5h.8M133.3 39.8h.8M135.1 46.5h.8M134.1 60.0h.8M119.0 41.1h.8M119.4 46.2h.8M134.9 44.3h.8M119.0 43.0h.8M118.2 48.9h.8M120.8 55.2h.8M122.7 38.5h.8M134.5 46.9h.8M134.5 62.1h.8M133.1 39.2h.8M120.3 64.7h.8M135.3 43.0h.8M118.0 62.5h.8M124.4 40.0h.8M131.0 59.8h.8M121.1 64.9h.8M131.1 39.1h.8M119.8 60.1h.8M135.5 44.9h.8M119.8 48.8h.8M132.8 60.1h.8M134.1 42.1h.8M124.2 38.3h.8M124.3 40.6h.8M133.5 40.9h.8M133.8 52.4h.8M121.2 60.3h.8M134.1 47.2h.8M137.0 44.6h.8M134.9 52.0h.8M131.4 40.6h.8M117.8 65.6h.8M119.2 56.1h.8M132.0 65.0h.8M134.9 43.6h.8M115.3 46.1h.8M120.5 41.4h.8M120.6 61.2h.8M117.4 58.6h.8M136.4 50.0h.8M130.9 61.7h.8M131.2 58.1h.8M136.1 46.8h.8M132.0 40.4h.8M120.2 48.9h.8M120.7 56.6h.8M131.9 55.6h.8M122.7 62.7h.8M135.6 40.9h.8M133.9 52.4h.8M133.5 43.7h.8M132.4 57.1h.8M131.5 64.7h.8M120.8 60.3h.8M133.9 47.3h.8M121.4 58.0h.8M122.5 63.4h.8M119.7 55.8h.8M118.6 41.5h.8M134.3 42.4h.8M118.9 61.4h.8M119.9 43.9h.8M130.3 62.2h.8M132.3 64.8h.8M135.7 46.0h.8M120.7 65.5h.8M121.3 40.8h.8M134.3 44.6h.8M133.7 41.6h.8M127.2 40.4h.8M118.5 63.4h.8M125.9 40.4h.8M133.1 40.6h.8M122.4 63.1h.8M131.1 62.6h.8M123.7 39.8h.8M119.2 64.5h.8M122.1 64.6h.8M120.8 52.6h.8M127.2 40.8h.8M122.1 41.0h.8M131.5 57.9h.8M117.0 51.8h.8M120.8 54.0h.8M118.0 60.5h.8M120.0 63.3h.8M121.8 62.9h.8M134.3 53.3h.8M117.7 45.3h.8M117.9 60.3h.8M121.7 64.1h.8M137.4 40.8h.8M130.4 36.7h.8M126.6 40.4h.8M121.7 54.2h.8M132.8 58.0h.8M134.1 47.2h.8M118.8 50.3h.8M123.3 40.2h.8M119.6 41.7h.8M122.0 57.9h.8M131.9 63.3h.8M134.4 50.7h.8M129.2 36.5h.8M118.6 61.4h.8M132.0 62.9h.8M126.8 39.2h.8M141.1 35.2h.8M143.0 22.8h.8M158.2 46.9h.8M136.2 42.9h.8M123.2 29.8h.8M140.1 39.0h.8M137.4 54.1h.8M131.3 34.6h.8M144.1 49.6h.8M127.4 44.4h.8M153.6 48.9h.8M122.1 38.3h.8M140.7 52.2h.8M112.1 48.7h.8M130.4 16.0h.8M115.6 42.1h.8M122.0 47.6h.8M138.4 44.5h.8M130.5 51.4h.8M118.4 20.1h.8" stroke="#000" stroke-width=".8" fill="none"/>
<path d="M141.6 36.5h.8M139.5 38.4h.8M138.9 32.6h.8M142.0 36.8h.8M138.2 37.8h.8M138.2 33.1h.8M139.8 32.1h.8M140.9 33.6h.8M137.2 36.5h.8M141.2 41.0h.8M135.8 36.3h.8M142.4 33.8h.8M138.0 32.3h.8M136.4 37.5h.8M140.7 36.3h.8M141.1 34.0h.8M137.1 31.2h.8M134.4 37.6h.8M137.2 34.5h.8M138.0 36.5h.8M137.4 36.6h.8M141.6 33.7h.8M138.3 36.4h.8M139.9 34.6h.8M137.8 31.3h.8M138.9 31.6h.8M137.3 31.8h.8M142.2 34.3h.8M138.7 37.8h.8M140.1 38.1h.8M137.5 35.2h.8M136.7 37.3h.8M140.9 35.3h.8M136.8 36.3h.8M135.3 36.8h.8M139.1 36.3h.8M139.2 32.7h.8M139.3 40.4h.8M138.0 34.8h.8M138.8 35.0h.8M141.0 34.7h.8M135.8 37.5h.8M139.5 33.5h.8M138.3 32.0h.8M142.1 32.6h.8M137.7 40.5h.8M137.2 38.0h.8M139.7 35.6h.8M136.5 31.1h.8M136.3 34.8h.8M137.8 36.9h.8M144.1 28.9h.8M141.8 41.7h.8M140.0 33.4h.8M144.3 32.6h.8M138.1 31.1h.8M141.5 31.4h.8M140.5 35.3h.8M144.5 33.6h.8M137.6 35.3h.8M137.1 37.0h.8M140.0 34.9h.8M137.2 34.4h.8M138.2 37.4h.8M141.8 34.2h.8M139.3 37.2h.8M139.7 31.6h.8M138.3 39.0h.8M143.0 31.9h.8M139.5 34.6h.8M138.6 30.7h.8M138.4 34.5h.8M134.0 39.8h.8M138.9 35.4h.8M137.9 35.4h.8M137.0 32.1h.8M137.6 38.7h.8M141.4 35.4h.8M138.4 40.1h.8M141.0 33.6h.8M138.2 38.9h.8M140.5 32.3h.8M140.5 35.1h.8M141.5 34.5h.8M137.8 31.9h.8M135.1 34.0h.8M142.0 34.2h.8M142.9 37.1h.8M139.8 39.6h.8M133.9 34.6h.8M137.0 35.6h.8M138.1 35.9h.8M140.6 35.3h.8M135.5 35.2h.8M142.2 35.8h.8M141.3 34.0h.8M136.5 40.3h.8M139.4 38.4h.8M140.6 31.8h.8M136.3 37.0h.8M140.5 35.1h.8M137.4 38.2h.8M136.0 36.5h.8M140.6 32.8h.8M132.9 38.7h.8M138.0 30.1h.8M140.9 32.9h.8M135.2 37.5h.8M142.2 36.1h.8M136.0 37.9h.8M141.0 35.8h.8M146.5 32.5h.8M137.2 32.5h.8M136.3 34.4h.8M137.4 35.4h.8M139.1 36.4h.8M139.9 37.4h.8M138.7 31.0h.8M134.4 37.4h.8M134.7 40.6h.8M139.0 35.5h.8M143.2 32.5h.8M140.7 33.2h.8M133.6 33.5h.8M137.9 36.2h.8M135.2 36.5h.8M141.9 37.8h.8M137.1 35.8h.8M136.9 37.0h.8M136.9 38.5h.8M138.9 39.2h.8M134.4 35.9h.8M140.1 35.1h.8M136.6 38.2h.8M140.9 37.4h.8M133.2 34.6h.8M139.8 35.9h.8M139.2 33.1h.8M131.0 36.1h.8M142.7 29.8h.8M138.7 36.4h.8M137.7 33.5h.8M137.7 36.1h.8M144.2 35.9h.8M141.8 34.1h.8M135.0 36.7h.8M137.8 33.6h.8M142.1 40.5h.8M137.4 35.9h.8M135.9 40.4h.8M138.5 34.4h.8M134.7 30.4h.8M143.6 34.2h.8M134.6 40.6h.8M141.4 35.0h.8M140.9 36.9h.8M138.6 33.7h.8M139.0 30.2h.8M136.7 35.8h.8M140.5 30.9h.8M133.7 37.1h.8M138.9 34.8h.8M136.7 32.7h.8M140.6 35.9h.8M144.7 33.4h.8M136.9 39.2h.8M137.2 38.4h.8M139.6 33.4h.8M133.2 42.2h.8M137.7 34.4h.8M139.3 33.1h.8M139.0 36.8h.8M138.5 38.3h.8M137.3 36.2h.8M142.1 36.1h.8M138.4 36.3h.8M135.1 33.7h.8M142.1 40.0h.8M139.6 37.1h.8M142.0 36.0h.8M139.9 36.6h.8M142.6 39.6h.8M139.1 34.3h.8M139.5 31.2h.8M144.6 36.5h.8M137.7 38.5h.8M137.7 36.8h.8M134.4 32.6h.8M140.9 32.6h.8M139.3 32.2h.8M137.2 35.7h.8M139.3 41.5h.8M143.6 34.6h.8M139.3 33.4h.8M145.1 39.1h.8M142.4 32.1h.8M137.9 39.0h.8M135.7 42.9h.8M137.2 36.4h.8M143.9 35.1h.8M136.5 34.4h.8M133.4 37.6h.8M140.6 34.4h.8M137.8 36.9h.8M135.9 33.8h.8M140.5 38.2h.8M141.0 30.4h.8M137.0 33.1h.8M139.8 33.7h.8M141.1 37.4h.8M141.2 34.2h.8M141.0 35.2h.8M135.9 40.4h.8M140.9 38.9h.8M137.3 34.1h.8M139.5 38.3h.8M139.0 35.3h.8M142.4 33.4h.8M141.0 37.7h.8M141.0 34.6h.8M134.5 30.2h.8M140.0 32.3h.8M139.0 32.7h.8M136.4 33.2h.8M138.9 32.1h.8M142.0 32.0h.8M138.0 33.2h.8M137.8 37.8h.8M138.1 35.9h.8M135.1 38.3h.8M137.0 32.5h.8M134.5 36.2h.8M138.0 34.1h.8M135.1 37.4h.8M136.9 32.8h.8M143.9 38.7h.8M133.3 38.6h.8M138.4 36.5h.8M141.2 32.1h.8M134.6 35.0h.8M128.4 40.7h.8M139.0 29.9h.8M140.5 34.8h.8M134.6 34.0h.8M144.6 31.2h.8M136.3 32.1h.8M136.2 32.4h.8M135.3 39.2h.8M139.0 35.9h.8M138.4 34.8h.8M136.2 33.0h.8M139.2 36.8h.8M138.2 27.7h.8M139.5 31.0h.8M139.3 31.7h.8M138.2 35.9h.8M138.4 35.6h.8M141.9 34.7h.8M138.6 38.5h.8M136.4 32.8h.8M138.8 40.1h.8M139.0 31.4h.8M138.4 32.2h.8M143.7 37.7h.8M141.0 37.9h.8M136.7 37.0h.8M141.0 39.4h.8M138.2 33.4h.8M135.6 37.8h.8M142.0 35.4h.8M139.1 38.1h.8M138.4 34.8h.8M143.1 38.0h.8M138.1 36.1h.8M137.7 34.9h.8M138.6 34.4h.8M135.9 40.2h.8M135.5 39.5h.8M141.8 37.6h.8M141.7 33.9h.8M136.9 38.1h.8M143.6 31.9h.8M145.0 38.4h.8M135.9 33.0h.8M141.1 34.0h.8M139.4 40.9h.8M142.6 39.3h.8M139.1 40.3h.8M140.4 33.7h.8M137.3 30.9h.8M145.3 31.2h.8M143.8 38.2h.8M140.5 27.3h.8M135.6 32.7h.8M137.2 35.1h.8M140.2 33.3h.8M136.8 40.0h.8M139.3 38.1h.8M134.3 37.0h.8M137.1 35.9h.8M138.8 39.1h.8M139.7 35.6h.8M137.5 35.5h.8M131.5 41.8h.8M135.4 38.0h.8M130.6 42.7h.8M133.8 36.9h.8M136.2 38.3h.8M141.6 36.9h.8M135.7 42.1h.8M136.6 37.7h.8M143.2 34.3h.8M135.8 33.6h.8M139.4 40.3h.8M133.3 37.8h.8M135.0 41.1h.8M141.6 46.2h.8M138.0 37.2h.8M137.4 40.0h.8M138.3 34.7h.8M139.1 41.0h.8M139.9 38.1h.8M136.5 35.9h.8M140.9 36.9h.8M137.7 37.0h.8M138.3 32.1h.8M138.9 35.0h.8M140.2 38.1h.8M133.1 42.0h.8M138.2 37.5h.8M142.6 27.8h.8M140.4 38.2h.8M133.8 45.8h.8M139.0 33.0h.8M135.6 36.5h.8M139.9 31.0h.8M132.0 40.1h.8M135.9 39.8h.8M140.4 38.9h.8M133.1 43.9h.8M137.1 38.0h.8M134.8 38.5h.8M142.2 37.4h.8M134.4 43.2h.8M136.7 41.6h.8M133.4 35.4h.8M135.8 39.7h.8M144.1 36.4h.8M141.4 33.6h.8M138.5 34.7h.8M140.0 30.2h.8M137.2 42.5h.8M134.3 42.5h.8M142.2 33.3h.8M140.2 35.1h.8M135.6 33.3h.8M142.2 30.3h.8M137.1 38.8h.8M141.1 31.7h.8M140.1 39.4h.8M139.0 33.7h.8M137.1 38.1h.8M132.8 37.6h.8M132.4 36.7h.8M141.9 27.8h.8M135.0 30.8h.8M140.3 42.3h.8M133.4 34.3h.8M132.4 35.0h.8M135.7 47.5h.8M137.3 38.7h.8M139.9 31.0h.8M138.8 36.3h.8M134.7 39.0h.8M130.7 38.2h.8M138.6 33.5h.8M132.8 51.7h.8M137.2 36.8h.8M136.4 26.7h.8M135.6 34.9h.8M141.3 38.2h.8M136.1 34.6h.8M139.3 39.5h.8M141.1 35.5h.8M136.3 34.2h.8M135.6 33.3h.8M136.6 36.2h.8M141.8 38.3h.8M140.0 38.1h.8M135.8 36.5h.8M139.6 34.3h.8M134.1 41.3h.8M138.4 38.3h.8M137.5 33.7h.8M135.1 30.3h.8M139.9 28.2h.8M142.5 38.1h.8M132.8 35.0h.8M134.0 40.6h.8M141.2 38.6h.8M135.8 37.5h.8M137.0 37.6h.8M133.4 39.5h.8M137.7 41.1h.8M135.3 38.0h.8M144.4 29.6h.8M133.1 28.4h.8M139.6 37.2h.8M139.3 35.6h.8M132.8 35.3h.8M139.4 32.9h.8M136.1 46.5h.8M139.2 29.5h.8M136.9 27.5h.8M136.9 34.1h.8M139.6 38.0h.8M141.9 34.7h.8M140.4 38.2h.8M135.7 41.2h.8M133.5 36.3h.8M139.5 37.7h.8M142.6 38.1h.8M131.9 37.0h.8M141.3 40.6h.8M131.1 43.4h.8M138.1 38.5h.8M136.3 38.7h.8M136.0 32.3h.8M134.6 35.1h.8M140.9 38.0h.8M139.4 30.8h.8M139.9 40.2h.8M137.6 49.8h.8M135.6 43.8h.8M137.1 34.0h.8M138.1 35.9h.8M132.8 46.5h.8M145.4 37.9h.8M135.2 37.6h.8M135.2 34.1h.8M139.0 36.1h.8M134.4 38.2h.8M149.7 29.4h.8M141.3 39.5h.8M135.5 29.4h.8M141.7 33.8h.8M143.9 29.7h.8M139.4 36.6h.8M133.2 32.0h.8M140.5 28.7h.8M144.4 34.8h.8M137.3 35.1h.8M134.9 35.4h.8M133.8 37.1h.8M142.3 30.5h.8M136.8 39.3h.8M137.9 36.0h.8M148.3 37.1h.8M136.8 39.6h.8M137.5 39.3h.8M124.6 36.3h.8M138.3 34.1h.8M137.0 38.3h.8M136.6 32.9h.8M135.1 40.5h.8M143.8 42.9h.8M138.0 36.3h.8M140.8 34.8h.8M137.9 39.5h.8M128.2 41.9h.8M133.4 43.5h.8M136.3 32.8h.8M130.4 36.0h.8M135.7 39.0h.8M143.2 39.7h.8M137.1 38.0h.8M144.9 34.4h.8M134.6 43.1h.8M134.5 38.4h.8M142.4 40.4h.8M132.2 33.2h.8M138.6 43.7h.8M135.4 40.2h.8M142.0 36.0h.8M141.1 37.8h.8M135.0 34.5h.8M135.8 32.0h.8M130.6 32.5h.8M137.4 37.3h.8M139.7 33.1h.8M135.6 39.1h.8M144.4 34.3h.8M136.0 37.8h.8M145.5 45.7h.8M129.2 38.0h.8M137.9 37.4h.8M135.2 41.7h.8M130.1 35.8h.8M140.6 37.0h.8M133.3 33.3h.8" stroke="#000" stroke-width=".8" fill="none"/>
<ellipse cx="138.6" cy="35.5" rx="3.0" ry="2.4" transform="rotate(-50 138.6 35.5)" fill="#000" filter="url(#bl)" opacity=".9"/>
</g>
<rect x="111.6" y="8.2" width="58.1" height="57.8" fill="none" stroke="#6e6e6e" stroke-width=".7"/>
<rect x="132.6" y="22.8" width="15.2" height="22.2" fill="none" stroke="#444" stroke-width=".8"/>
<path d="M134 39.4H113.6V65.6" stroke="#444" stroke-width=".8" fill="none"/>
<path d="M134 45V65.6" stroke="#444" stroke-width=".8" fill="none"/>
<text class="n" x="149" y="37.1" font-size="5.4" font-weight="normal" fill="#000" textLength="10" lengthAdjust="spacingAndGlyphs">5.32</text>
<rect x="134.4" y="56.6" width="10.8" height="5" fill="#fff" stroke="none" stroke-width=".7"/>
<text class="n" x="134.4" y="60.8" font-size="5.4" font-weight="normal" fill="#000" textLength="10.4" lengthAdjust="spacingAndGlyphs">93.8</text>
</g>
<g>
<g clip-path="url(#c3)">
<path d="M45 107.6L51 105.6L57 103.6L63 101.8L69 100.2L74 99.2L77.4 99.2L78.2 100.8L77 104L73.6 109L69 114.2L64.2 118.4L57.2 121.6L45 122.4z" fill="#000" filter="url(#bl)"/>
<path d="M72.2 113.2h.8M63.3 100.7h.8M51.6 123.3h.8M76.3 103.3h.8M70.6 111.6h.8M70.5 116.8h.8M78.0 101.2h.8M79.2 105.4h.8M71.7 115.8h.8M64.8 121.3h.8M48.1 121.9h.8M75.6 110.3h.8M58.0 100.7h.8M48.5 103.8h.8M51.2 125.2h.8M54.5 102.4h.8M82.7 103.8h.8M79.8 102.2h.8M77.9 103.0h.8M53.5 121.3h.8M47.3 123.6h.8M71.5 112.1h.8M52.7 103.5h.8M78.8 103.1h.8M74.6 100.3h.8M73.4 110.2h.8M74.8 108.4h.8M74.5 107.7h.8M56.2 103.2h.8M75.2 109.1h.8M77.7 101.8h.8M72.6 95.2h.8M51.9 102.3h.8M48.4 122.2h.8M58.0 122.1h.8M73.3 112.7h.8M52.8 122.8h.8M71.0 112.3h.8M76.4 103.9h.8M48.8 107.6h.8M59.3 121.6h.8M74.6 108.0h.8M70.5 98.0h.8M73.8 98.8h.8M52.7 121.7h.8M76.6 107.8h.8M75.1 106.1h.8M77.6 103.0h.8M56.8 120.8h.8M65.6 101.7h.8M77.9 106.0h.8M53.4 103.4h.8M77.0 97.0h.8M71.6 100.0h.8M70.8 97.5h.8M71.4 111.0h.8M60.9 103.0h.8M64.7 101.8h.8M67.9 100.1h.8M74.7 107.8h.8M75.8 99.9h.8M61.8 120.3h.8M54.8 103.6h.8M46.3 125.2h.8M46.7 123.1h.8M78.4 99.1h.8M50.7 123.3h.8M76.2 105.4h.8M69.3 99.6h.8M63.1 118.8h.8M73.8 110.0h.8M82.2 102.8h.8M77.5 100.3h.8M75.9 105.8h.8M76.1 98.3h.8M48.7 104.9h.8M60.5 101.3h.8M74.9 115.4h.8M50.1 106.0h.8M78.2 98.7h.8M71.0 112.7h.8M72.1 96.7h.8M78.3 107.0h.8M53.5 122.9h.8M80.2 103.0h.8M73.6 107.7h.8M63.7 117.7h.8M55.5 103.9h.8M51.1 123.3h.8M80.1 99.7h.8M76.6 106.2h.8M74.4 108.8h.8M77.1 103.5h.8M78.7 103.4h.8M77.4 99.8h.8M76.7 99.4h.8M72.8 107.9h.8M57.2 102.3h.8M79.1 102.3h.8M78.1 101.7h.8M54.1 104.9h.8M73.9 108.9h.8M63.7 118.5h.8M80.0 104.3h.8M72.3 111.4h.8M72.6 110.2h.8M53.2 121.8h.8M54.6 125.0h.8M77.7 102.0h.8M62.4 100.2h.8M76.0 104.9h.8M72.8 99.1h.8M55.0 101.8h.8M77.5 100.3h.8M72.3 97.3h.8M71.5 100.4h.8M54.0 104.9h.8M67.6 98.6h.8M67.8 115.1h.8M54.3 105.4h.8M73.9 99.8h.8M73.0 100.0h.8M56.4 104.6h.8M48.1 126.0h.8M74.8 107.9h.8M64.6 100.5h.8M72.2 113.5h.8M76.2 103.7h.8M53.0 105.9h.8M54.5 121.4h.8M79.0 104.2h.8M63.9 101.2h.8M48.8 122.7h.8M55.5 101.6h.8M72.7 111.2h.8M52.2 104.0h.8M46.6 104.7h.8M63.2 122.4h.8M76.9 106.3h.8M77.3 100.3h.8M74.9 112.2h.8M55.1 105.2h.8M74.2 109.9h.8M77.1 102.7h.8M70.8 100.7h.8M53.5 105.0h.8M46.5 107.3h.8M57.5 103.3h.8M57.6 121.6h.8M59.4 120.5h.8M55.1 125.3h.8M65.5 101.2h.8M70.6 112.7h.8M77.3 102.9h.8M76.2 105.9h.8M48.1 121.5h.8M76.8 108.3h.8M77.3 102.9h.8M64.5 101.0h.8M68.3 117.2h.8M60.8 101.5h.8M70.1 100.2h.8M76.0 99.6h.8M57.6 98.8h.8M70.0 99.5h.8M67.1 100.8h.8M58.9 121.5h.8M62.8 101.4h.8M56.4 101.9h.8M67.7 114.0h.8M58.5 103.7h.8M73.8 99.7h.8M55.7 104.1h.8M68.8 98.3h.8M58.0 102.2h.8M72.3 109.1h.8M65.6 116.8h.8M49.4 107.4h.8M75.9 100.1h.8M70.4 111.4h.8M79.2 98.6h.8M72.9 98.0h.8M78.4 103.4h.8M62.1 99.8h.8M77.1 106.9h.8M66.2 116.1h.8M76.3 105.4h.8M65.6 116.6h.8M56.5 123.0h.8M72.3 113.0h.8M54.3 103.9h.8M78.9 100.2h.8M51.9 120.7h.8M55.7 104.5h.8M75.6 106.7h.8M53.9 105.7h.8M53.9 104.5h.8M70.3 111.6h.8M78.0 105.9h.8M76.0 99.8h.8M70.4 117.1h.8M57.2 102.3h.8M56.5 101.7h.8M58.6 124.9h.8M70.2 113.1h.8M74.8 107.4h.8M68.2 100.1h.8M77.6 99.5h.8M62.4 102.9h.8M75.6 109.4h.8M77.4 105.9h.8M73.8 112.4h.8M77.7 98.6h.8M76.5 105.3h.8M71.8 113.4h.8M79.8 101.3h.8M82.1 96.8h.8M67.2 101.3h.8M76.6 101.8h.8M77.3 106.7h.8M60.5 119.7h.8M51.7 103.8h.8M52.2 120.9h.8M67.1 117.2h.8M79.7 104.9h.8M61.4 118.9h.8M63.4 118.6h.8M47.2 123.6h.8M67.5 100.2h.8M68.8 98.0h.8M54.5 122.4h.8M73.2 114.0h.8M68.5 113.7h.8M54.6 101.5h.8M76.3 107.9h.8M70.0 100.6h.8M69.0 113.9h.8M78.3 106.2h.8M76.7 106.3h.8M70.3 113.0h.8M77.0 97.5h.8M70.0 117.0h.8M48.2 121.8h.8M63.5 119.9h.8M75.4 106.5h.8M70.6 112.2h.8M50.7 104.3h.8M66.7 101.5h.8M49.2 107.1h.8M61.1 122.3h.8M62.6 120.1h.8M48.4 123.1h.8M76.1 107.2h.8M76.4 108.5h.8M77.0 107.1h.8M71.4 99.8h.8M66.7 116.0h.8M78.5 105.2h.8M65.3 101.3h.8M80.2 102.8h.8M73.8 109.8h.8M65.5 119.7h.8M49.0 103.3h.8M77.5 101.4h.8M67.7 97.5h.8M79.8 108.6h.8M59.1 101.7h.8M56.2 121.6h.8M77.4 100.5h.8M52.2 122.3h.8M55.2 122.3h.8M71.2 114.6h.8M61.7 120.1h.8M50.0 123.1h.8M75.2 98.4h.8M78.0 102.2h.8M75.7 94.0h.8M67.1 118.4h.8M74.1 95.3h.8M50.1 104.4h.8M61.4 124.4h.8M56.2 104.8h.8M79.3 103.2h.8M67.3 115.2h.8M75.5 100.0h.8M50.6 106.7h.8M64.7 117.0h.8M48.2 123.8h.8M79.9 102.7h.8M75.8 96.7h.8M76.7 98.7h.8M54.1 126.0h.8M57.6 121.1h.8M76.4 98.8h.8M71.2 98.3h.8M47.5 124.8h.8M52.6 122.0h.8M68.1 99.4h.8M46.9 105.5h.8M75.3 105.6h.8M68.7 118.4h.8M75.7 106.6h.8M49.7 124.4h.8M50.0 124.6h.8M63.4 118.1h.8M63.1 101.6h.8M58.5 102.9h.8M76.4 99.8h.8M51.5 105.3h.8M48.4 122.2h.8M77.4 98.3h.8M72.8 113.6h.8M61.8 119.0h.8M52.8 123.1h.8M62.9 118.9h.8M75.0 108.7h.8M73.0 110.6h.8M73.0 97.2h.8M59.6 100.4h.8M74.7 98.5h.8M72.1 112.4h.8M66.8 115.2h.8M68.0 117.6h.8M74.5 107.8h.8M61.8 120.0h.8M71.7 98.5h.8M62.6 119.7h.8M76.7 104.5h.8M76.0 108.7h.8M56.6 121.3h.8M79.3 102.6h.8M77.5 100.8h.8M56.6 125.8h.8M78.9 104.5h.8M62.0 122.1h.8M74.5 98.9h.8M71.3 100.5h.8M78.3 99.1h.8M53.5 122.8h.8M55.8 103.2h.8M50.9 122.7h.8M75.9 99.7h.8M69.3 116.5h.8M77.6 105.1h.8M78.5 99.1h.8M57.9 120.9h.8M70.0 113.1h.8M63.9 120.7h.8M72.9 110.6h.8M78.9 103.0h.8M74.1 108.9h.8M76.3 104.3h.8M75.6 97.1h.8M71.1 120.5h.8M55.7 102.7h.8M71.8 110.0h.8M49.8 125.1h.8M79.1 104.2h.8M72.0 111.2h.8M58.9 101.1h.8M54.5 102.7h.8M71.3 112.4h.8M72.4 110.8h.8M46.9 104.7h.8M60.6 119.3h.8M52.1 102.7h.8M78.8 103.9h.8M72.8 108.7h.8M50.6 103.7h.8M70.9 99.3h.8M75.6 112.5h.8M73.5 109.4h.8M77.4 102.2h.8M65.5 116.9h.8M67.9 118.9h.8M70.2 114.0h.8M73.3 95.0h.8M75.6 97.3h.8M77.6 100.4h.8M68.9 98.4h.8M76.3 96.5h.8M46.2 106.7h.8M77.2 107.1h.8M53.0 125.5h.8M69.5 96.7h.8M70.7 111.9h.8M80.7 98.8h.8M50.2 105.6h.8M79.1 98.4h.8M47.3 107.9h.8M64.6 98.8h.8M78.8 102.2h.8M78.7 101.2h.8M76.8 107.1h.8M50.0 104.2h.8M70.0 113.7h.8M61.5 99.6h.8M72.5 112.6h.8M72.5 97.8h.8M72.7 110.9h.8M59.1 103.2h.8M48.7 103.6h.8M78.7 102.5h.8M47.4 122.2h.8M47.8 106.5h.8M75.4 105.0h.8M69.3 99.7h.8M51.5 103.1h.8M78.8 104.0h.8M75.9 98.5h.8M79.8 101.6h.8M75.4 111.1h.8M53.4 104.3h.8M76.0 106.7h.8M69.3 114.9h.8M76.0 97.8h.8M67.8 97.3h.8M76.9 110.9h.8M76.7 108.3h.8M72.3 96.8h.8M48.0 123.2h.8M46.5 125.4h.8M80.6 101.8h.8M64.8 120.0h.8M78.2 107.1h.8M49.3 103.7h.8M76.5 102.5h.8M69.3 114.4h.8M63.4 101.3h.8M64.8 117.5h.8M70.5 112.3h.8M77.0 106.9h.8M58.8 119.7h.8M70.2 116.6h.8M49.1 106.9h.8M78.0 110.2h.8M60.3 99.4h.8M72.8 112.4h.8M62.2 102.4h.8M57.5 102.5h.8M65.7 117.0h.8M47.8 104.6h.8M60.4 121.4h.8M69.4 100.0h.8M79.3 104.2h.8M48.1 126.4h.8M80.6 103.8h.8M69.2 100.3h.8M68.3 116.1h.8M66.5 96.1h.8M79.0 100.4h.8M48.4 121.4h.8M68.2 116.7h.8M49.1 123.5h.8M78.8 99.4h.8M77.4 103.8h.8M73.4 112.5h.8M65.9 116.4h.8M69.1 98.9h.8M77.8 102.7h.8M51.4 122.0h.8M80.1 98.7h.8M48.1 123.2h.8M81.7 104.1h.8M78.2 105.9h.8M67.6 101.3h.8M71.1 116.5h.8M63.8 98.2h.8M66.6 100.6h.8M67.5 116.1h.8M66.7 101.3h.8M74.1 108.7h.8M76.6 98.8h.8M68.9 99.5h.8M69.6 99.5h.8M58.8 103.8h.8M67.5 114.7h.8M50.5 105.3h.8M77.0 105.4h.8M58.3 121.2h.8M71.0 112.1h.8M66.8 100.2h.8M58.7 120.6h.8M57.9 103.3h.8M63.9 100.2h.8M61.9 102.0h.8M69.6 115.0h.8M61.1 120.2h.8M73.9 100.1h.8M59.2 102.2h.8M75.6 107.0h.8M72.9 109.7h.8M78.7 107.8h.8M75.9 104.8h.8M78.6 106.8h.8M71.7 99.6h.8M60.5 103.3h.8M50.1 121.9h.8M74.5 108.3h.8M60.2 102.6h.8M52.4 125.0h.8M74.0 107.1h.8M59.8 120.0h.8M67.5 115.2h.8M70.8 111.4h.8M47.9 106.4h.8M72.3 98.3h.8M54.3 121.7h.8M74.5 98.4h.8M75.0 107.6h.8M52.5 106.2h.8M72.7 96.0h.8M48.9 123.9h.8M46.6 121.8h.8M76.7 96.5h.8M78.2 99.6h.8M47.5 122.8h.8M52.0 126.7h.8M58.9 119.8h.8M60.2 102.0h.8M52.7 120.9h.8M76.2 103.8h.8M78.6 106.9h.8M53.0 126.2h.8M62.9 119.0h.8M68.6 98.9h.8M53.1 102.0h.8M70.6 113.5h.8M74.4 96.9h.8M58.7 103.7h.8M76.1 107.5h.8M60.8 121.0h.8M52.4 105.5h.8M76.1 104.1h.8M59.8 122.2h.8M66.9 100.8h.8M52.8 104.3h.8M79.0 99.3h.8M50.9 102.2h.8M70.4 114.2h.8M73.8 98.7h.8M79.2 106.0h.8M77.5 100.7h.8M79.0 99.3h.8M75.6 107.9h.8M71.7 113.4h.8M59.8 119.1h.8M78.4 99.6h.8M55.2 104.0h.8M62.5 99.3h.8M76.2 104.1h.8M48.3 123.2h.8M66.6 115.5h.8M72.3 114.6h.8M62.0 99.7h.8M71.5 100.1h.8M63.5 102.9h.8M65.5 118.8h.8M76.6 106.6h.8M49.4 121.8h.8M74.2 111.6h.8M52.5 123.6h.8M72.6 116.1h.8M76.0 97.6h.8M56.3 97.8h.8M68.0 119.8h.8M52.5 104.5h.8M68.3 99.9h.8M70.7 117.4h.8M76.6 102.3h.8M67.2 118.4h.8M55.7 103.9h.8M66.0 117.7h.8M52.2 125.3h.8M53.6 102.1h.8M67.7 99.2h.8M68.5 115.2h.8M48.8 124.4h.8M76.9 106.2h.8M73.5 113.9h.8M68.5 112.9h.8M61.7 120.7h.8M77.2 103.8h.8M78.8 107.0h.8M51.2 124.1h.8M75.0 112.3h.8M76.8 103.6h.8M77.0 106.7h.8M67.1 101.0h.8M52.4 122.6h.8M66.8 116.5h.8M73.2 109.3h.8M76.7 106.3h.8M51.5 102.9h.8M56.6 102.8h.8M71.0 99.5h.8M78.7 99.3h.8M75.4 108.0h.8M71.8 111.8h.8M71.3 110.4h.8M67.7 100.1h.8M55.2 104.0h.8M46.4 121.2h.8M73.2 109.7h.8M56.1 102.5h.8M67.3 101.2h.8M69.9 100.5h.8M76.2 98.4h.8M61.6 99.1h.8M74.1 110.0h.8M74.5 108.8h.8M57.7 124.6h.8M80.0 102.7h.8M67.5 99.5h.8M73.8 100.1h.8M62.1 120.1h.8M46.8 107.2h.8M56.9 102.9h.8M71.9 99.2h.8M77.4 104.5h.8M54.6 122.1h.8M70.1 113.3h.8M77.9 103.1h.8M49.1 105.5h.8M67.0 99.0h.8M56.3 104.4h.8M74.4 109.5h.8M74.4 106.9h.8M64.5 117.1h.8M80.9 101.5h.8M78.0 106.8h.8M78.8 108.7h.8M75.2 97.8h.8M68.6 99.8h.8M76.2 98.1h.8M56.2 101.2h.8M62.8 102.0h.8M66.8 99.4h.8M59.1 119.9h.8M66.2 99.0h.8M63.8 95.0h.8M51.9 105.3h.8M54.5 124.3h.8M51.0 122.9h.8M73.2 108.9h.8M54.3 101.2h.8M63.1 121.4h.8M73.6 113.3h.8M74.8 99.9h.8M49.5 122.1h.8M69.2 98.6h.8M73.6 109.5h.8M76.6 105.9h.8M76.1 97.7h.8M54.2 103.4h.8M47.8 106.9h.8M61.1 101.5h.8M76.0 106.2h.8M58.9 100.4h.8M69.8 112.9h.8M75.1 107.2h.8M68.8 119.4h.8M69.9 100.0h.8M76.4 99.2h.8M50.3 105.4h.8M48.5 125.7h.8M48.9 105.6h.8M59.0 121.5h.8M61.6 102.7h.8M81.5 97.1h.8M78.9 99.8h.8M78.1 101.1h.8M68.3 119.2h.8M62.8 102.4h.8M63.3 120.5h.8M60.5 121.3h.8M71.2 115.0h.8M77.7 106.3h.8M57.0 121.1h.8M68.4 116.1h.8M54.1 104.8h.8M67.8 97.5h.8M50.1 102.8h.8M68.8 118.4h.8M73.2 112.0h.8M54.0 122.3h.8M61.6 99.5h.8M57.5 103.8h.8M81.6 107.5h.8M68.9 97.3h.8M49.0 124.3h.8M74.1 110.5h.8M67.0 99.1h.8M47.9 105.0h.8M62.5 120.2h.8M67.6 115.6h.8M63.5 119.0h.8M65.3 118.0h.8M47.2 106.0h.8M77.3 103.2h.8M74.5 97.5h.8M60.3 122.0h.8M74.9 106.3h.8M75.1 98.9h.8M68.5 100.1h.8M48.7 103.4h.8M62.5 122.2h.8M76.0 106.0h.8M46.3 106.8h.8M76.9 102.5h.8M54.4 104.3h.8M77.0 98.5h.8M83.7 106.0h.8M76.7 103.4h.8M56.9 103.8h.8M77.4 102.4h.8M68.0 120.8h.8M78.6 100.1h.8M67.5 100.8h.8M69.8 100.2h.8M59.5 100.0h.8M74.8 106.4h.8M65.6 101.5h.8M56.5 102.8h.8M50.4 106.2h.8M53.0 101.6h.8M68.5 115.9h.8M74.2 98.2h.8M70.9 113.6h.8M76.3 106.9h.8M52.3 121.3h.8M64.6 101.2h.8M79.6 100.1h.8M75.3 96.4h.8M67.1 117.3h.8M75.4 94.8h.8M51.8 125.6h.8M58.1 100.9h.8M78.4 101.1h.8M49.8 124.0h.8M80.4 101.4h.8M55.5 103.8h.8M54.0 101.8h.8M62.2 120.0h.8M61.4 120.7h.8M47.1 106.0h.8M54.7 99.1h.8M72.1 111.3h.8M59.5 120.6h.8M68.9 99.4h.8M91.2 126.1h.8M90.9 113.9h.8M86.3 119.9h.8M87.5 120.8h.8M80.9 118.6h.8M82.9 111.6h.8M85.1 123.3h.8M87.3 118.0h.8M86.7 116.4h.8M84.8 114.0h.8M69.4 117.9h.8M80.9 112.1h.8M79.1 120.3h.8M84.9 118.1h.8M88.5 119.2h.8M87.9 122.1h.8M94.8 121.8h.8M89.0 124.0h.8M82.7 108.3h.8M85.2 103.8h.8M80.8 117.6h.8M97.9 118.8h.8M81.5 120.3h.8M90.4 118.2h.8M93.0 111.0h.8M94.8 104.9h.8M86.1 121.0h.8M90.5 112.6h.8M70.7 106.5h.8M77.8 117.6h.8M101.4 112.3h.8M97.2 111.1h.8M86.4 118.2h.8M70.0 112.1h.8M91.7 114.6h.8M92.3 115.0h.8M88.7 121.0h.8M80.5 122.4h.8M92.5 104.7h.8M92.1 112.0h.8M87.1 124.3h.8M96.1 112.1h.8M89.7 112.7h.8M68.2 115.3h.8M73.2 110.7h.8M89.1 108.9h.8M81.4 106.0h.8M77.0 119.1h.8M92.1 102.6h.8M93.6 115.4h.8M81.5 108.1h.8M89.5 111.8h.8M80.0 117.1h.8M90.1 105.6h.8M89.8 116.1h.8M92.7 123.3h.8M87.2 109.7h.8M95.3 120.4h.8M79.6 111.1h.8M85.0 122.4h.8M87.6 128.7h.8M76.7 123.5h.8M80.5 114.5h.8M83.8 126.2h.8M97.7 104.2h.8M89.5 120.5h.8M90.2 118.6h.8M76.4 123.3h.8M95.2 111.3h.8M90.7 121.4h.8M90.0 120.4h.8M77.6 112.3h.8M89.0 121.0h.8M95.0 110.0h.8M80.3 112.3h.8M81.9 127.3h.8M97.6 117.0h.8M96.9 113.3h.8M88.0 116.5h.8M87.1 111.6h.8M75.8 120.8h.8M83.0 110.9h.8M78.7 101.9h.8M78.1 117.4h.8M79.6 102.9h.8M78.9 101.2h.8M89.9 98.8h.8M86.0 126.5h.8M87.0 119.4h.8M75.5 130.2h.8M69.2 97.0h.8M102.5 84.5h.8M72.5 86.4h.8M74.0 90.0h.8M76.3 92.1h.8M67.5 95.8h.8M80.3 86.9h.8M80.2 86.4h.8M64.4 95.9h.8M84.6 93.9h.8M102.5 87.2h.8M77.0 90.9h.8M50.7 96.0h.8M74.5 93.8h.8M73.4 94.4h.8M70.8 82.5h.8M75.9 91.9h.8M65.8 81.8h.8M74.1 94.2h.8M93.0 90.7h.8M79.0 93.6h.8M68.0 88.9h.8M65.7 93.3h.8M83.6 95.8h.8M49.6 88.9h.8M83.2 92.1h.8M85.7 95.3h.8M77.5 96.6h.8M89.1 90.3h.8M64.0 84.9h.8M77.5 100.7h.8M77.1 91.5h.8M77.8 87.3h.8M77.3 100.3h.8M76.3 89.1h.8M76.6 98.7h.8M76.0 98.8h.8M74.7 91.9h.8M64.8 93.8h.8M80.0 98.9h.8" stroke="#000" stroke-width=".8" fill="none"/>
</g>
<rect x="46" y="73.6" width="58" height="57.4" fill="none" stroke="#6e6e6e" stroke-width=".7"/>
<path d="M68.6 73.6L68.6 131" stroke="#333" stroke-width=".8" fill="none"/>
<path d="M46 106.2L104 106.2" stroke="#333" stroke-width=".8" fill="none"/>
<g clip-path="url(#c3)"><path d="M45 107.6L51 105.6L57 103.6L63 101.8L69 100.2L74 99.2L77.4 99.2L78.2 100.8L77 104L73.6 109L69 114.2L64.2 118.4L57.2 121.6L45 122.4z" fill="#000" filter="url(#bl)"/></g>
<rect x="47.2" y="125.2" width="11.4" height="4.8" fill="#fff" stroke="none" stroke-width=".7"/>
<text class="n" x="48.2" y="80.2" font-size="5.4" font-weight="normal" fill="#000" textLength="10" lengthAdjust="spacingAndGlyphs">5.31</text>
<text class="n" x="102.7" y="80.2" font-size="5.4" font-weight="normal" fill="#000" text-anchor="end" textLength="10" lengthAdjust="spacingAndGlyphs">6.54</text>
<text class="n" x="47.8" y="129.4" font-size="5.4" font-weight="normal" fill="#000" textLength="10.4" lengthAdjust="spacingAndGlyphs">74.8</text>
<text class="n" x="102.7" y="129.4" font-size="5.4" font-weight="normal" fill="#000" text-anchor="end" textLength="9.8" lengthAdjust="spacingAndGlyphs">13.4</text>
</g>
<g>
<g clip-path="url(#c4)">
<path d="M116.8 108.6L117.8 106L120.8 105.4L129 105.6L135 101.8L139.2 97.6L142 96.2L144.2 97.4L145.2 101L143.2 106L137.6 111L133 116.6L130.6 124L129.4 132L120.6 132L117.8 120z" fill="#000" filter="url(#bl)"/>
<path d="M115.9 115.3h.8M145.0 98.1h.8M120.4 129.7h.8M144.6 103.5h.8M140.2 108.9h.8M138.2 98.9h.8M141.2 107.9h.8M144.5 103.6h.8M142.1 109.8h.8M137.6 96.7h.8M117.4 107.6h.8M140.6 106.8h.8M144.6 97.9h.8M117.5 107.7h.8M137.8 111.3h.8M144.3 99.0h.8M120.3 105.1h.8M128.3 102.8h.8M138.1 99.9h.8M131.5 118.9h.8M117.4 110.7h.8M140.8 109.8h.8M144.4 96.4h.8M132.5 102.2h.8M113.2 119.2h.8M112.4 105.8h.8M140.7 114.4h.8M132.0 118.3h.8M136.5 113.2h.8M132.0 103.4h.8M145.3 102.9h.8M144.8 100.7h.8M142.4 96.5h.8M118.8 121.7h.8M132.2 102.7h.8M119.7 126.9h.8M124.9 104.9h.8M135.4 99.7h.8M140.5 107.9h.8M143.9 104.1h.8M141.3 108.3h.8M145.8 97.6h.8M132.0 117.0h.8M131.3 120.4h.8M137.3 112.8h.8M117.1 106.5h.8M144.7 110.4h.8M143.2 94.7h.8M131.9 102.8h.8M118.1 112.6h.8M133.4 121.8h.8M132.9 120.8h.8M125.1 105.2h.8M139.0 98.0h.8M116.6 112.8h.8M125.0 104.7h.8M119.0 124.1h.8M117.8 102.7h.8M118.1 118.5h.8M138.5 95.9h.8M136.5 112.2h.8M132.1 104.6h.8M136.4 95.8h.8M129.0 103.6h.8M122.0 103.6h.8M128.5 103.2h.8M125.2 101.4h.8M131.0 119.5h.8M121.5 106.5h.8M134.4 98.4h.8M137.9 98.3h.8M142.8 112.5h.8M133.6 116.9h.8M142.7 105.3h.8M138.8 98.1h.8M118.8 106.1h.8M137.8 112.1h.8M116.2 109.9h.8M129.8 127.8h.8M132.3 121.2h.8M132.5 120.3h.8M120.4 129.7h.8M130.7 121.3h.8M130.3 123.4h.8M146.7 99.7h.8M132.3 128.2h.8M126.2 106.2h.8M139.7 96.4h.8M128.4 106.7h.8M117.2 119.0h.8M118.0 114.7h.8M121.0 129.0h.8M117.1 123.5h.8M135.1 101.1h.8M133.5 103.8h.8M141.8 96.2h.8M117.1 116.0h.8M121.2 104.8h.8M141.7 107.2h.8M124.2 104.3h.8M117.0 113.3h.8M117.9 119.5h.8M126.1 103.3h.8M131.7 102.2h.8M130.0 125.0h.8M142.2 96.6h.8M134.8 114.7h.8M139.6 111.2h.8M119.4 128.7h.8M119.5 104.8h.8M116.3 123.8h.8M112.7 111.5h.8M136.9 113.8h.8M142.5 109.2h.8M115.7 110.1h.8M140.3 108.3h.8M133.5 117.2h.8M132.0 104.0h.8M145.5 101.4h.8M140.1 114.4h.8M123.4 104.6h.8M127.4 104.4h.8M132.2 103.4h.8M130.4 128.8h.8M126.3 104.5h.8M133.0 101.6h.8M119.3 103.2h.8M116.4 117.3h.8M117.8 111.4h.8M116.4 126.2h.8M134.5 102.5h.8M121.9 105.8h.8M145.0 106.2h.8M141.7 106.8h.8M138.2 114.4h.8M133.5 101.8h.8M142.3 107.9h.8M143.4 97.1h.8M134.8 117.2h.8M118.4 104.0h.8M141.4 97.0h.8M138.2 99.2h.8M133.6 125.5h.8M116.7 111.6h.8M133.8 117.0h.8M138.8 109.9h.8M125.5 104.9h.8M143.3 107.8h.8M142.8 106.1h.8M139.4 96.7h.8M138.9 110.0h.8M131.0 120.9h.8M119.8 125.2h.8M117.2 110.8h.8M136.1 100.5h.8M116.3 108.5h.8M134.7 123.8h.8M115.1 124.1h.8M135.4 113.9h.8M117.9 125.9h.8M129.8 129.9h.8M116.7 112.4h.8M133.8 118.1h.8M118.1 118.7h.8M117.8 106.1h.8M128.7 105.3h.8M125.6 105.6h.8M122.4 105.0h.8M117.6 113.8h.8M132.8 121.5h.8M134.7 116.8h.8M144.2 103.8h.8M129.6 105.7h.8M131.4 101.5h.8M131.0 122.4h.8M144.7 104.6h.8M128.8 104.6h.8M135.4 113.9h.8M144.2 103.3h.8M130.0 124.1h.8M144.6 101.3h.8M142.8 95.5h.8M132.8 122.2h.8M141.8 106.2h.8M133.6 122.5h.8M141.0 109.8h.8M145.0 99.7h.8M138.7 109.9h.8M145.1 100.6h.8M138.2 111.0h.8M116.8 115.0h.8M146.6 103.2h.8M132.1 123.1h.8M138.7 98.9h.8M131.8 120.6h.8M124.0 106.3h.8M117.0 110.5h.8M133.1 120.0h.8M116.8 124.3h.8M115.4 124.9h.8M116.9 130.3h.8M133.2 124.0h.8M130.0 127.2h.8M119.0 106.1h.8M129.4 104.9h.8M131.6 103.0h.8M124.5 105.7h.8M119.0 124.2h.8M131.8 103.7h.8M134.2 100.4h.8M120.0 105.5h.8M116.0 123.2h.8M130.9 124.4h.8M140.0 110.4h.8M118.1 108.4h.8M131.5 129.1h.8M135.2 116.1h.8M131.3 103.2h.8M118.8 119.6h.8M116.6 106.8h.8M132.4 119.8h.8M132.6 120.9h.8M143.1 107.4h.8M130.1 125.0h.8M129.8 123.4h.8M130.3 104.6h.8M118.3 130.6h.8M116.1 121.1h.8M118.0 104.5h.8M123.8 104.6h.8M132.9 115.8h.8M138.4 112.7h.8M135.3 114.9h.8M129.2 129.4h.8M144.8 100.2h.8M132.9 130.4h.8M118.3 104.7h.8M136.4 111.4h.8M117.7 108.1h.8M143.7 101.5h.8M136.3 117.0h.8M133.0 122.9h.8M140.5 97.1h.8M140.0 92.8h.8M144.9 101.2h.8M144.0 103.8h.8M129.9 104.2h.8M135.6 113.1h.8M138.9 98.5h.8M132.6 118.6h.8M120.0 127.0h.8M144.4 97.7h.8M143.9 97.7h.8M118.7 106.4h.8M135.6 99.0h.8M117.1 121.3h.8M144.5 103.3h.8M118.3 120.8h.8M143.6 96.5h.8M116.3 126.6h.8M139.4 109.0h.8M132.8 116.9h.8M133.2 116.9h.8M132.9 124.6h.8M118.6 122.6h.8M133.2 116.5h.8M130.1 102.6h.8M127.9 105.9h.8M130.4 124.8h.8M117.6 121.8h.8M115.4 115.7h.8M133.2 123.0h.8M122.3 105.7h.8M130.5 126.6h.8M135.4 100.3h.8M140.6 107.6h.8M139.9 95.9h.8M119.7 128.9h.8M131.1 125.9h.8M134.0 99.9h.8M134.4 115.3h.8M132.0 102.4h.8M139.1 97.8h.8M118.8 105.6h.8M115.4 116.5h.8M143.1 109.7h.8M116.9 115.3h.8M122.6 105.6h.8M142.8 97.9h.8M118.3 122.7h.8M126.7 105.7h.8M131.7 118.7h.8M126.2 105.1h.8M116.0 117.3h.8M116.8 108.8h.8M130.6 124.3h.8M130.4 124.3h.8M134.2 127.5h.8M136.4 99.9h.8M144.7 105.0h.8M131.7 103.6h.8M133.3 118.9h.8M116.8 114.4h.8M135.2 101.7h.8M133.5 101.2h.8M133.8 116.2h.8M145.1 100.8h.8M117.4 117.2h.8M135.9 98.5h.8M140.1 97.6h.8M138.0 98.3h.8M130.5 126.3h.8M133.9 113.9h.8M144.7 102.4h.8M118.6 128.9h.8M132.8 119.4h.8M117.1 115.5h.8M141.5 96.3h.8M135.6 102.1h.8M119.3 123.5h.8M129.7 129.1h.8M115.7 114.6h.8M144.7 101.3h.8M131.6 103.9h.8M137.8 100.2h.8M118.4 107.3h.8M116.9 110.8h.8M125.9 104.9h.8M117.5 123.0h.8M115.8 106.7h.8M136.1 95.6h.8M136.8 97.1h.8M143.6 107.8h.8M136.7 112.3h.8M133.3 117.6h.8M118.3 124.0h.8M143.8 104.3h.8M136.1 97.4h.8M116.8 108.7h.8M145.3 101.6h.8M140.0 109.5h.8M130.7 122.0h.8M117.9 105.0h.8M134.4 117.4h.8M129.6 125.7h.8M118.5 124.5h.8M121.9 103.7h.8M144.4 101.0h.8M112.7 118.0h.8M116.5 115.2h.8M146.1 105.2h.8M144.4 103.2h.8M117.7 106.2h.8M114.6 122.0h.8M144.4 103.8h.8M129.6 126.4h.8M116.9 120.4h.8M145.5 106.5h.8M143.8 105.4h.8M140.8 93.8h.8M120.6 129.6h.8M130.3 128.4h.8M145.8 104.0h.8M135.3 99.8h.8M134.5 98.5h.8M128.9 104.0h.8M119.5 103.1h.8M138.8 97.0h.8M144.8 99.3h.8M132.4 120.1h.8M132.4 130.1h.8M138.8 99.1h.8M118.6 118.7h.8M137.8 115.0h.8M143.8 97.1h.8M137.2 112.5h.8M123.4 105.7h.8M118.9 128.2h.8M118.9 122.4h.8M124.4 101.9h.8M142.7 106.6h.8M142.8 94.9h.8M117.6 105.6h.8M142.8 107.1h.8M117.6 111.3h.8M138.8 97.0h.8M115.3 108.6h.8M116.4 107.4h.8M136.7 100.0h.8M137.5 110.2h.8M117.0 111.8h.8M142.0 106.9h.8M132.9 120.5h.8M137.3 98.9h.8M141.3 107.5h.8M117.9 118.9h.8M130.6 124.0h.8M119.2 105.9h.8M129.8 106.1h.8M131.3 127.8h.8M127.0 104.6h.8M142.1 97.2h.8M118.2 123.9h.8M142.4 96.7h.8M134.8 117.6h.8M117.0 126.7h.8M135.7 111.9h.8M132.6 117.0h.8M116.4 116.6h.8M142.7 108.0h.8M135.5 101.9h.8M140.2 109.5h.8M131.5 119.5h.8M116.8 110.3h.8M133.5 116.5h.8M117.1 114.2h.8M145.6 106.8h.8M130.6 128.5h.8M117.1 123.1h.8M144.5 98.6h.8M130.4 101.6h.8M136.8 101.1h.8M140.9 111.4h.8M116.2 107.8h.8M134.9 102.0h.8M144.5 103.2h.8M132.6 123.0h.8M144.8 100.7h.8M118.2 124.2h.8M138.7 110.1h.8M117.3 125.4h.8M117.4 117.1h.8M132.3 128.7h.8M117.4 114.0h.8M144.0 96.3h.8M137.1 111.4h.8M126.9 105.6h.8M116.8 115.5h.8M142.9 106.1h.8M136.7 114.0h.8M132.4 128.7h.8M132.0 103.4h.8M116.7 125.8h.8M118.1 124.6h.8M139.1 98.8h.8M130.0 126.4h.8M144.9 104.4h.8M117.3 126.1h.8M132.3 124.4h.8M140.4 108.1h.8M124.2 105.5h.8M129.7 101.2h.8M134.6 123.1h.8M146.3 102.2h.8M144.4 97.3h.8M124.0 104.6h.8M122.1 106.4h.8M144.1 106.1h.8M131.8 128.4h.8M115.7 105.8h.8M142.6 106.2h.8M116.7 115.6h.8M136.3 111.8h.8M136.1 101.4h.8M133.3 117.5h.8M130.4 123.4h.8M140.0 107.9h.8M121.9 103.0h.8M134.6 118.5h.8M136.7 101.0h.8M130.6 126.4h.8M143.9 94.2h.8M119.3 104.5h.8M130.3 124.3h.8M117.9 108.7h.8M132.6 117.0h.8M136.6 111.6h.8M140.7 96.4h.8M135.5 100.6h.8M144.5 96.6h.8M120.4 128.9h.8M136.5 116.0h.8M118.4 126.1h.8M141.8 107.0h.8M114.8 107.3h.8M132.2 117.1h.8M117.8 114.9h.8M142.0 96.7h.8M132.9 117.3h.8M145.3 102.0h.8M118.2 129.1h.8M125.9 104.2h.8M142.8 95.5h.8M146.3 100.4h.8M117.4 121.0h.8M115.3 113.0h.8M144.0 108.5h.8M117.9 117.1h.8M116.3 107.8h.8M129.9 130.1h.8M135.5 99.9h.8M124.8 105.8h.8M117.1 111.6h.8M130.8 122.3h.8M137.8 97.5h.8M130.5 105.1h.8M135.0 114.9h.8M142.9 106.1h.8M125.2 103.6h.8M116.7 112.1h.8M132.5 116.7h.8M139.3 108.5h.8M122.2 105.4h.8M137.4 100.2h.8M138.3 99.6h.8M145.1 99.4h.8M130.6 127.3h.8M140.1 96.3h.8M133.6 102.5h.8M146.4 97.1h.8M132.5 117.9h.8M132.8 101.6h.8M133.2 116.4h.8M116.4 116.4h.8M116.0 117.9h.8M122.2 105.5h.8M121.6 103.9h.8M126.7 105.7h.8M141.6 109.0h.8M117.8 125.3h.8M144.0 96.6h.8M131.9 122.8h.8M134.6 102.8h.8M133.9 114.6h.8M142.3 106.7h.8M117.5 112.5h.8M140.7 111.3h.8M117.0 107.0h.8M134.9 115.7h.8M137.4 111.8h.8M125.9 105.8h.8M145.9 103.6h.8M116.8 109.0h.8M144.8 98.6h.8M129.2 105.4h.8M119.6 126.8h.8M138.4 99.0h.8M137.3 98.1h.8M130.8 125.8h.8M144.8 98.1h.8M145.7 104.5h.8M146.1 97.6h.8M116.0 120.8h.8M129.4 128.6h.8M119.3 121.8h.8M116.8 119.4h.8M132.5 116.4h.8M119.8 126.3h.8M117.6 116.7h.8M131.8 125.5h.8M143.1 105.2h.8M147.1 98.4h.8M132.3 128.0h.8M141.6 107.2h.8M136.6 98.3h.8M135.1 114.7h.8M144.7 98.5h.8M131.7 124.7h.8M143.7 95.9h.8M117.9 119.1h.8M145.3 98.2h.8M131.4 120.3h.8M115.9 106.7h.8M143.2 97.6h.8M132.7 121.8h.8M135.2 119.9h.8M145.6 102.6h.8M134.0 123.0h.8M134.0 119.9h.8M143.6 98.8h.8M133.9 102.6h.8M144.2 100.4h.8M145.7 94.3h.8M136.2 112.9h.8M140.3 107.8h.8M115.9 117.5h.8M126.1 106.4h.8M118.0 106.6h.8M133.1 118.5h.8M126.2 104.9h.8M115.6 122.8h.8M117.9 115.5h.8M129.7 130.0h.8M119.7 104.3h.8M130.9 125.9h.8M119.4 128.9h.8M132.0 103.2h.8M116.5 113.2h.8M140.4 107.9h.8M118.3 121.3h.8M124.6 104.5h.8M115.8 113.6h.8M132.1 116.7h.8M120.0 127.7h.8M137.0 99.3h.8M134.5 120.8h.8M141.9 97.0h.8M118.7 103.7h.8M116.9 117.6h.8M118.4 121.0h.8M144.9 99.5h.8M126.3 103.9h.8M139.9 111.0h.8M146.0 102.1h.8M117.8 124.3h.8M132.4 123.1h.8M135.1 115.3h.8M119.0 127.6h.8M133.5 116.5h.8M134.1 118.9h.8M120.0 126.0h.8M134.7 114.8h.8M128.8 105.7h.8M119.8 104.9h.8M143.1 96.3h.8M135.3 113.4h.8M146.9 101.6h.8M131.7 118.7h.8M119.1 126.4h.8M116.2 113.7h.8M131.8 126.4h.8M118.3 122.7h.8M129.5 106.0h.8M147.3 98.9h.8M131.1 130.5h.8M118.6 103.9h.8M133.2 120.8h.8M134.6 114.2h.8M119.3 129.3h.8M127.9 103.4h.8M136.7 112.0h.8M136.3 97.8h.8M133.6 121.4h.8M143.8 107.7h.8M136.3 98.5h.8M142.0 108.4h.8M133.8 103.3h.8M134.3 115.6h.8M132.4 127.8h.8M115.6 115.7h.8M133.7 116.3h.8M140.3 114.8h.8M132.9 117.5h.8M139.2 118.2h.8M134.6 119.9h.8M141.3 121.8h.8M138.4 119.9h.8M144.6 111.5h.8M135.4 116.1h.8M137.2 123.7h.8M129.0 123.4h.8M137.3 119.2h.8M129.4 127.5h.8M134.7 119.1h.8M136.6 110.7h.8M130.5 116.6h.8M141.2 121.4h.8M139.9 124.8h.8M136.7 112.8h.8M137.9 118.3h.8M141.1 115.6h.8M141.5 112.4h.8M135.2 112.7h.8M134.7 111.2h.8M137.1 122.8h.8M129.9 109.7h.8M133.6 116.0h.8M139.3 115.9h.8M139.0 118.1h.8M128.1 114.8h.8M134.8 122.8h.8M142.0 114.5h.8M136.0 125.4h.8M134.3 119.4h.8M128.0 119.8h.8M136.2 113.5h.8M141.1 115.1h.8M135.3 115.8h.8M143.8 122.6h.8M136.1 126.3h.8M133.6 119.6h.8M135.5 111.5h.8M140.9 120.6h.8M130.0 122.5h.8M141.1 121.3h.8M137.6 122.7h.8M138.5 122.2h.8M141.2 109.4h.8M141.0 110.2h.8M147.9 118.5h.8M138.1 111.1h.8M137.0 117.7h.8M136.2 118.6h.8M139.7 108.5h.8M140.0 115.1h.8M134.5 110.5h.8M141.4 114.8h.8M136.3 116.3h.8M137.7 113.5h.8M137.8 115.6h.8M150.4 113.3h.8M136.2 115.4h.8M143.4 98.5h.8M145.6 127.5h.8M131.9 109.3h.8M146.3 88.3h.8M133.3 113.2h.8M160.2 90.2h.8M162.7 117.1h.8M138.0 115.5h.8M124.9 99.0h.8M149.4 121.4h.8M132.3 97.1h.8M134.5 130.0h.8M143.1 130.4h.8M155.7 125.5h.8M140.7 109.4h.8M158.2 96.0h.8M125.9 125.1h.8M112.0 116.4h.8M126.9 102.9h.8M121.4 101.0h.8M131.1 99.5h.8M126.2 101.2h.8M117.8 100.8h.8M121.6 99.2h.8M126.6 102.0h.8M118.6 99.2h.8M122.8 97.0h.8M126.2 99.3h.8M119.8 102.8h.8M123.5 96.4h.8M123.4 99.4h.8M125.7 106.9h.8M127.2 104.4h.8M122.9 101.4h.8M126.9 99.6h.8M125.4 98.6h.8M128.1 97.2h.8M134.2 88.6h.8M115.7 99.6h.8M126.1 100.4h.8M114.3 101.3h.8M118.7 100.6h.8M121.5 99.1h.8M114.9 96.0h.8M120.7 96.7h.8M125.4 95.7h.8M125.3 101.6h.8M119.5 97.0h.8M121.9 102.4h.8M132.2 106.6h.8M124.5 101.9h.8M125.1 99.9h.8M117.6 98.9h.8M130.6 104.2h.8M120.4 95.0h.8M135.2 100.1h.8M126.7 99.4h.8M113.2 100.9h.8M118.2 99.1h.8M120.3 99.1h.8M138.2 104.6h.8M112.4 95.2h.8M121.0 97.9h.8M128.6 104.7h.8M119.6 101.7h.8M122.7 93.9h.8M131.0 105.3h.8M119.1 101.9h.8M120.9 99.7h.8M121.2 99.5h.8M124.2 98.1h.8M125.6 96.0h.8M128.8 97.0h.8M112.9 102.5h.8M121.9 98.3h.8M129.4 99.9h.8M135.6 101.3h.8M115.5 98.4h.8" stroke="#000" stroke-width=".8" fill="none"/>
</g>
<rect x="111.6" y="73.6" width="58.1" height="57.4" fill="none" stroke="#6e6e6e" stroke-width=".7"/>
<rect x="132.4" y="88.2" width="15.4" height="21.8" fill="none" stroke="#444" stroke-width=".8"/>
<path d="M134 104.2H113.4V130.4H134V110" stroke="#444" stroke-width=".8" fill="none"/>
<text class="n" x="149.4" y="101.9" font-size="5.4" font-weight="normal" fill="#000" textLength="9.6" lengthAdjust="spacingAndGlyphs">14.7</text>
<rect x="135" y="122.4" width="10.4" height="4.8" fill="#fff" stroke="none" stroke-width=".7"/>
<text class="n" x="135.3" y="126.5" font-size="5.4" font-weight="normal" fill="#000" textLength="9.8" lengthAdjust="spacingAndGlyphs">82.4</text>
</g>
<text x="242.5" y="18.3" font-size="7.9" text-anchor="middle" textLength="86.8" lengthAdjust="spacingAndGlyphs">CD25+CD127loFOXP3+</text>
<text x="242.6" y="27.6" font-size="7.9" text-anchor="middle" textLength="56.8" lengthAdjust="spacingAndGlyphs">Treg frequency</text>
<text x="356.3" y="18.3" font-size="7.9" text-anchor="middle" textLength="58.7" lengthAdjust="spacingAndGlyphs">FOXP3+Helios+</text>
<text x="356.3" y="27.6" font-size="7.9" text-anchor="middle" textLength="57.2" lengthAdjust="spacingAndGlyphs">Treg frequency</text>
<path d="M215 45.1V128.6H271" stroke="#000" stroke-width="1.5" fill="none"/>
<path d="M211 128.6L215 128.6" stroke="#000" stroke-width="1.2" fill="none"/>
<text x="210.8" y="130.75" font-size="6.2" text-anchor="end" textLength="3.1" lengthAdjust="spacingAndGlyphs">0</text>
<path d="M211 107.82L215 107.82" stroke="#000" stroke-width="1.2" fill="none"/>
<text x="210.8" y="109.97" font-size="6.2" text-anchor="end" textLength="3.1" lengthAdjust="spacingAndGlyphs">5</text>
<path d="M211 87.05L215 87.05" stroke="#000" stroke-width="1.2" fill="none"/>
<text x="210.8" y="89.2" font-size="6.2" text-anchor="end" textLength="5.8" lengthAdjust="spacingAndGlyphs">10</text>
<path d="M211 66.27L215 66.27" stroke="#000" stroke-width="1.2" fill="none"/>
<text x="210.8" y="68.42" font-size="6.2" text-anchor="end" textLength="5.8" lengthAdjust="spacingAndGlyphs">15</text>
<path d="M211 45.5L215 45.5" stroke="#000" stroke-width="1.2" fill="none"/>
<text x="210.8" y="47.65" font-size="6.2" text-anchor="end" textLength="5.8" lengthAdjust="spacingAndGlyphs">20</text>
<path d="M228.5 128.6L228.5 131.6" stroke="#000" stroke-width="1.2" fill="none"/>
<text x="228.7" y="137.8" font-size="5.9" text-anchor="middle">HD</text>
<text x="228.7" y="147.9" font-size="6" text-anchor="middle" textLength="17" lengthAdjust="spacingAndGlyphs">n =38</text>
<path d="M256.1 128.6L256.1 131.6" stroke="#000" stroke-width="1.2" fill="none"/>
<text x="256.3" y="137.8" font-size="5.9" text-anchor="middle">IPEX</text>
<text x="256.3" y="147.9" font-size="6" text-anchor="middle" textLength="13.2" lengthAdjust="spacingAndGlyphs">n =5</text>
<path d="M328.7 45.1V128.6H384" stroke="#000" stroke-width="1.5" fill="none"/>
<path d="M324.7 128.6L328.7 128.6" stroke="#000" stroke-width="1.2" fill="none"/>
<text x="324.5" y="130.75" font-size="6.2" text-anchor="end" textLength="3.1" lengthAdjust="spacingAndGlyphs">0</text>
<path d="M324.7 107.82L328.7 107.82" stroke="#000" stroke-width="1.2" fill="none"/>
<text x="324.5" y="109.97" font-size="6.2" text-anchor="end" textLength="3.1" lengthAdjust="spacingAndGlyphs">5</text>
<path d="M324.7 87.05L328.7 87.05" stroke="#000" stroke-width="1.2" fill="none"/>
<text x="324.5" y="89.2" font-size="6.2" text-anchor="end" textLength="5.8" lengthAdjust="spacingAndGlyphs">10</text>
<path d="M324.7 66.27L328.7 66.27" stroke="#000" stroke-width="1.2" fill="none"/>
<text x="324.5" y="68.42" font-size="6.2" text-anchor="end" textLength="5.8" lengthAdjust="spacingAndGlyphs">15</text>
<path d="M324.7 45.5L328.7 45.5" stroke="#000" stroke-width="1.2" fill="none"/>
<text x="324.5" y="47.65" font-size="6.2" text-anchor="end" textLength="5.8" lengthAdjust="spacingAndGlyphs">20</text>
<path d="M342.5 128.6L342.5 131.6" stroke="#000" stroke-width="1.2" fill="none"/>
<text x="342.7" y="137.8" font-size="5.9" text-anchor="middle">HD</text>
<text x="342.7" y="147.9" font-size="6" text-anchor="middle" textLength="17" lengthAdjust="spacingAndGlyphs">n =38</text>
<path d="M369.8 128.6L369.8 131.6" stroke="#000" stroke-width="1.2" fill="none"/>
<text x="370" y="137.8" font-size="5.9" text-anchor="middle">IPEX</text>
<text x="370" y="147.9" font-size="6" text-anchor="middle" textLength="13.2" lengthAdjust="spacingAndGlyphs">n =5</text>
<text x="192.2" y="87.4" font-size="5.9" text-anchor="middle" textLength="62.6" lengthAdjust="spacingAndGlyphs" transform="rotate(-90 192.2 87.4)">%CD3+CD4+CD25+</text>
<text x="200.3" y="87.6" font-size="5.9" text-anchor="middle" textLength="69" lengthAdjust="spacingAndGlyphs" transform="rotate(-90 200.3 87.6)">CD127loFOXP3+ cells</text>
<text x="305.3" y="87.2" font-size="5.9" text-anchor="middle" textLength="41.8" lengthAdjust="spacingAndGlyphs" transform="rotate(-90 305.3 87.2)">%CD3+CD4+</text>
<text x="313.2" y="85.5" font-size="5.9" text-anchor="middle" textLength="68.2" lengthAdjust="spacingAndGlyphs" transform="rotate(-90 313.2 85.5)">FOXP3+Helios+ cells</text>
<path d="M220.2 108.5L237.6 108.5" stroke="#000" stroke-width="1.1" fill="none"/>
<path d="M221.6 107.6L222.8 104.6L225.2 102L228.4 105.2L231.4 101.6L233.8 103.8L235.4 107.6L228.3 120.8z" fill="#000" stroke="#000" stroke-width="1" stroke-linejoin="round"/>
<path d="M223.5 93.5l2.9 2.9l-2.9 2.9l-2.9 -2.9z" fill="#fff" stroke="#000" stroke-width="1.2"/>
<path d="M233.1 84.7l2.9 2.9l-2.9 2.9l-2.9 -2.9z" fill="#fff" stroke="#000" stroke-width="1.2"/>
<path d="M224.6 98.3l2.3 2.3l-2.3 2.3l-2.3 -2.3z" fill="#999" stroke="#000" stroke-width="1.3"/>
<path d="M226.6 100.7l2.3 2.3l-2.3 2.3l-2.3 -2.3z" fill="#999" stroke="#000" stroke-width="1.3"/>
<path d="M232.9 96.9l2.3 2.3l-2.3 2.3l-2.3 -2.3z" fill="#999" stroke="#000" stroke-width="1.3"/>
<path d="M231 100.1l2.3 2.3l-2.3 2.3l-2.3 -2.3z" fill="#999" stroke="#000" stroke-width="1.3"/>
<path d="M234.2 100.3l2.3 2.3l-2.3 2.3l-2.3 -2.3z" fill="#999" stroke="#000" stroke-width="1.3"/>
<path d="M225 104.9l.6 .6l-.6 .6l-.6 -.6zM229.5 106.4l.6 .6l-.6 .6l-.6 -.6zM232 104.9l.6 .6l-.6 .6l-.6 -.6zM227 109.9l.6 .6l-.6 .6l-.6 -.6zM230.5 110.9l.6 .6l-.6 .6l-.6 -.6zM228.5 113.9l.6 .6l-.6 .6l-.6 -.6zM226 107.4l.6 .6l-.6 .6l-.6 -.6zM233 107.9l.6 .6l-.6 .6l-.6 -.6z" fill="#fff" opacity="0.55"/>
<path d="M247 111.3L264.8 111.3" stroke="#000" stroke-width="1.1" fill="none"/>
<path d="M260.6 98.5l3 3l-3 3l-3 -3zM251.9 104.6l3 3l-3 3l-3 -3zM256.3 106.4l3 3l-3 3l-3 -3zM261.1 113.3l3 3l-3 3l-3 -3zM251.7 117l3 3l-3 3l-3 -3z" fill="#000"/>
<path d="M334.6 102L336 100L349 100L350.4 102L350.6 108.5L346 113.6L338 113.6L334.4 108.5z" fill="#000" stroke="#000" stroke-width="1" stroke-linejoin="round" opacity="0.7"/>
<path d="M337.93 109.96l2.3 2.3l-2.3 2.3l-2.3 -2.3z" fill="none" stroke="#000" stroke-width="1"/>
<path d="M340.64 110.19l2.3 2.3l-2.3 2.3l-2.3 -2.3z" fill="none" stroke="#000" stroke-width="1"/>
<path d="M343.59 109.41l2.3 2.3l-2.3 2.3l-2.3 -2.3z" fill="none" stroke="#000" stroke-width="1"/>
<path d="M347.11 110.11l2.3 2.3l-2.3 2.3l-2.3 -2.3z" fill="none" stroke="#000" stroke-width="1"/>
<path d="M334.91 107.54l2.3 2.3l-2.3 2.3l-2.3 -2.3z" fill="none" stroke="#000" stroke-width="1"/>
<path d="M338.16 106.72l2.3 2.3l-2.3 2.3l-2.3 -2.3z" fill="none" stroke="#000" stroke-width="1"/>
<path d="M341.1 106.83l2.3 2.3l-2.3 2.3l-2.3 -2.3z" fill="none" stroke="#000" stroke-width="1"/>
<path d="M344.1 107.23l2.3 2.3l-2.3 2.3l-2.3 -2.3z" fill="none" stroke="#000" stroke-width="1"/>
<path d="M347.18 107.52l2.3 2.3l-2.3 2.3l-2.3 -2.3z" fill="none" stroke="#000" stroke-width="1"/>
<path d="M350.11 107.27l2.3 2.3l-2.3 2.3l-2.3 -2.3z" fill="none" stroke="#000" stroke-width="1"/>
<path d="M335.48 104.87l2.3 2.3l-2.3 2.3l-2.3 -2.3z" fill="none" stroke="#000" stroke-width="1"/>
<path d="M338.49 104.5l2.3 2.3l-2.3 2.3l-2.3 -2.3z" fill="none" stroke="#000" stroke-width="1"/>
<path d="M341.49 104.96l2.3 2.3l-2.3 2.3l-2.3 -2.3z" fill="none" stroke="#000" stroke-width="1"/>
<path d="M343.65 104.21l2.3 2.3l-2.3 2.3l-2.3 -2.3z" fill="none" stroke="#000" stroke-width="1"/>
<path d="M346.96 104.55l2.3 2.3l-2.3 2.3l-2.3 -2.3z" fill="none" stroke="#000" stroke-width="1"/>
<path d="M349.67 104.5l2.3 2.3l-2.3 2.3l-2.3 -2.3z" fill="none" stroke="#000" stroke-width="1"/>
<path d="M334.96 101.82l2.3 2.3l-2.3 2.3l-2.3 -2.3z" fill="none" stroke="#000" stroke-width="1"/>
<path d="M338.24 102.15l2.3 2.3l-2.3 2.3l-2.3 -2.3z" fill="none" stroke="#000" stroke-width="1"/>
<path d="M341.26 101.5l2.3 2.3l-2.3 2.3l-2.3 -2.3z" fill="none" stroke="#000" stroke-width="1"/>
<path d="M343.66 101.88l2.3 2.3l-2.3 2.3l-2.3 -2.3z" fill="none" stroke="#000" stroke-width="1"/>
<path d="M347.12 101.68l2.3 2.3l-2.3 2.3l-2.3 -2.3z" fill="none" stroke="#000" stroke-width="1"/>
<path d="M349.99 101.63l2.3 2.3l-2.3 2.3l-2.3 -2.3z" fill="none" stroke="#000" stroke-width="1"/>
<path d="M334 109L351.2 109" stroke="#000" stroke-width="1.1" fill="none"/>
<path d="M336.8 90.7l2.5 2.5l-2.5 2.5l-2.5 -2.5z" fill="#fff" stroke="#000" stroke-width="1.15"/>
<path d="M347.6 89.5l2.5 2.5l-2.5 2.5l-2.5 -2.5z" fill="#fff" stroke="#000" stroke-width="1.15"/>
<path d="M339.9 93.1l2.5 2.5l-2.5 2.5l-2.5 -2.5z" fill="#fff" stroke="#000" stroke-width="1.15"/>
<path d="M344.6 92.5l2.5 2.5l-2.5 2.5l-2.5 -2.5z" fill="#fff" stroke="#000" stroke-width="1.15"/>
<path d="M335.6 95.1l2.5 2.5l-2.5 2.5l-2.5 -2.5z" fill="#fff" stroke="#000" stroke-width="1.15"/>
<path d="M349.4 94.5l2.5 2.5l-2.5 2.5l-2.5 -2.5z" fill="#fff" stroke="#000" stroke-width="1.15"/>
<path d="M342.2 95.9l2.5 2.5l-2.5 2.5l-2.5 -2.5z" fill="#fff" stroke="#000" stroke-width="1.15"/>
<path d="M338.4 96.9l2.5 2.5l-2.5 2.5l-2.5 -2.5z" fill="#fff" stroke="#000" stroke-width="1.15"/>
<path d="M346.2 96.7l2.5 2.5l-2.5 2.5l-2.5 -2.5z" fill="#fff" stroke="#000" stroke-width="1.15"/>
<path d="M335.4 99.1l2.5 2.5l-2.5 2.5l-2.5 -2.5z" fill="#fff" stroke="#000" stroke-width="1.15"/>
<path d="M349.6 98.7l2.5 2.5l-2.5 2.5l-2.5 -2.5z" fill="#fff" stroke="#000" stroke-width="1.15"/>
<path d="M341 99.5l2.5 2.5l-2.5 2.5l-2.5 -2.5z" fill="#fff" stroke="#000" stroke-width="1.15"/>
<path d="M344.4 99.9l2.5 2.5l-2.5 2.5l-2.5 -2.5z" fill="#fff" stroke="#000" stroke-width="1.15"/>
<path d="M337.5 103.9l.6 .6l-.6 .6l-.6 -.6zM340.5 105.4l.6 .6l-.6 .6l-.6 -.6zM343.5 104.2l.6 .6l-.6 .6l-.6 -.6zM346.5 105.6l.6 .6l-.6 .6l-.6 -.6zM348.5 103.4l.6 .6l-.6 .6l-.6 -.6zM339 108.4l.6 .6l-.6 .6l-.6 -.6zM342.5 109.9l.6 .6l-.6 .6l-.6 -.6zM345.5 108.9l.6 .6l-.6 .6l-.6 -.6zM336.5 106.9l.6 .6l-.6 .6l-.6 -.6zM341.5 111.9l.6 .6l-.6 .6l-.6 -.6zM344 111.4l.6 .6l-.6 .6l-.6 -.6zM348 107.9l.6 .6l-.6 .6l-.6 -.6z" fill="#fff" opacity="0.6"/>
<path d="M339.4 112l2.4 2.4l-2.4 2.4l-2.4 -2.4z" fill="#fff" stroke="#000" stroke-width="1.15"/>
<path d="M343.8 111.8l2.4 2.4l-2.4 2.4l-2.4 -2.4z" fill="#fff" stroke="#000" stroke-width="1.15"/>
<path d="M341.5 114.4l2.4 2.4l-2.4 2.4l-2.4 -2.4z" fill="#fff" stroke="#000" stroke-width="1.15"/>
<path d="M360.8 82.1L379 82.1" stroke="#000" stroke-width="1.1" fill="none"/>
<path d="M365.1 57.8l3 3l-3 3l-3 -3zM374.5 64.7l3 3l-3 3l-3 -3zM369.7 79.1l3 3l-3 3l-3 -3zM369.7 90.4l3 3l-3 3l-3 -3zM370.2 103.9l3 3l-3 3l-3 -3z" fill="#000"/>
<path d="M342.2 50V47.2H370.4V50" stroke="#000" stroke-width="1" fill="none"/>
<text x="341.4" y="44.5" font-size="6.2" textLength="27.8" lengthAdjust="spacingAndGlyphs"><tspan font-style="italic">P</tspan> &lt; .0001</text>
<text x="45.5" y="171.6" font-size="7.5" text-anchor="middle" textLength="19.4" lengthAdjust="spacingAndGlyphs">CD25</text>
<text x="95.9" y="171.6" font-size="7.5" text-anchor="middle" textLength="23.4" lengthAdjust="spacingAndGlyphs">CD127</text>
<text x="143.2" y="171.6" font-size="7.5" text-anchor="middle" textLength="30.6" lengthAdjust="spacingAndGlyphs">CD45RO</text>
<text x="10.8" y="200.2" font-size="5.3" text-anchor="middle" textLength="23.5" lengthAdjust="spacingAndGlyphs" transform="rotate(-90 10.8 200.2)">FOXP3+</text>
<text x="17.8" y="200.2" font-size="5.3" text-anchor="middle" textLength="22.2" lengthAdjust="spacingAndGlyphs" transform="rotate(-90 17.8 200.2)">Helios+</text>
<text x="10.6" y="248" font-size="5.3" text-anchor="middle" textLength="23.2" lengthAdjust="spacingAndGlyphs" transform="rotate(-90 10.6 248)">FOXP3-</text>
<text x="17.8" y="248.2" font-size="5.3" text-anchor="middle" textLength="20.8" lengthAdjust="spacingAndGlyphs" transform="rotate(-90 17.8 248.2)">Helios-</text>
<path d="M44 221.9L44.4 214L45 205L45.7 197L46.4 191L47.2 186.5L47.9 183.8L48.6 183L49.2 185L49.8 189.5L50.7 197.4L51.4 204L52 209.5L53.2 216.8L54.8 220.9L58 222.1" fill="none" stroke="#222" stroke-width=".8" stroke-linejoin="round"/>
<path d="M73.7 221.6L74.4 220.8L75.7 221.3L77.3 220.4L78.9 218.5L80.5 214.4L82.1 207.9L83.3 202.3L84.6 194.2L85.7 186.9L86.7 182.9L87.5 182.5L88.2 184.5" fill="none" stroke="#222" stroke-width=".8" stroke-linejoin="round"/>
<path d="M126.9 222L129 220.4L130.6 216L131.8 208.7L132.9 199L133.9 189.3L134.7 183.7L135.1 182.8L135.5 183.7L136.3 190.9L137.1 199L138.1 204.7L139 207.1L139.8 206.6" fill="none" stroke="#222" stroke-width=".8" stroke-linejoin="round"/>
<path d="M24.8 228.9L25.7 233.3L26.8 237.3L28.4 240.2L30.5 241.9L32.9 242.5L34.6 241.9" fill="none" stroke="#222" stroke-width=".8" stroke-linejoin="round"/>
<path d="M80.5 270.1L83.2 268.2L84.8 264.6L85.9 259L86.9 252.5L87.7 246L88.5 240.4L89.3 234.7L90.6 231.2L92.3 230L93.9 230.6L94.9 235.7L95.6 245.4L96.2 255.1L97 264L98.3 268.9L100 270.1" fill="none" stroke="#555" stroke-width=".8" stroke-linejoin="round"/>
<path d="M126.9 270L128.5 268.4L129.7 264.8L130.6 259.2L131.6 251.9L132.6 242.2L133.5 234.1L134.2 230.6L134.8 230.6" fill="none" stroke="#444" stroke-width=".8" stroke-linejoin="round"/>
<path d="M24.7 222.3L24.9 220.2L28.1 219.6L30.5 218.4L32.1 216L33.8 212.8L34.6 208.7L35.4 203.9L36.2 198.2L37 194.2L37.8 190.1L38.5 190.8L39.1 186.9L39.5 184.2L39.9 188.5L40.6 185.8L41 190.1L41.8 186.6L42.7 190.1L43.5 187.6L44.3 192.6L45.1 199L45.9 205.5L46.7 211.2L47.8 215.2L49.1 218.5L51.6 220.9L54 222.3z" fill="#000" stroke="none" stroke-width=".8" stroke-linejoin="round"/>
<path d="M82.1 222.3L83.3 218.5L84.2 213.6L85 207.1L85.9 199L86.7 190.9L87.5 185.3L88.1 183.6L88.8 186.1L89.1 190.9L89.7 197.4L90.2 202.3L91 204.7L91.5 207.9L92.7 210.4L93.5 212.8L94.3 213.9L95 213.4L95.6 215.5L96.7 216.8L97.8 218.5L99.1 220.1L100.7 221.7L101.5 222.3z" fill="#000" stroke="none" stroke-width=".8" stroke-linejoin="round"/>
<path d="M132.9 222.3L134.2 219.3L135.5 216.8L136.6 214.4L137.7 212L138.7 209.6L139.5 206.3L140.2 207.9L141 203.9L141.9 199L143.1 194.2L144.2 190.1L145.2 187.7L145.8 188.5L146.8 184.4L147.6 186.9L148.4 190.9L149.2 195.8L150 202.3L150.8 208.7L151.7 214.4L152.5 219.3L153.3 221.7L153.8 222.3z" fill="#000" stroke="none" stroke-width=".8" stroke-linejoin="round"/>
<path d="M24.7 270.3L24.7 264L26.5 262.9L28.1 260L30 256.7L31.7 253.5L32.9 250.3L33.8 245.4L34.6 241.4L35.4 235.7L36.2 232.5L37 231.2L37.5 234.1L38.1 238.9L39.1 245.4L39.9 251.9L40.7 256.7L41.8 260L43 263.2L44.3 265.6L45.9 267.3L48.3 268.9L51.6 270.3z" fill="#000" stroke="none" stroke-width=".8" stroke-linejoin="round"/>
<path d="M81.3 270.3L83.8 268.4L85.4 264.8L86.5 259.2L87.5 252.7L88.3 246.2L89.1 240.6L89.9 234.9L91 231.7L92.3 230.5L93.5 230.9L94.3 235.7L94.8 243.8L95.2 251.9L95.9 260L96.5 265.6L97.5 268.9L99.1 270.3z" fill="#000" stroke="none" stroke-width=".8" stroke-linejoin="round"/>
<path d="M129 270.3L130.6 267.3L131.8 260.8L132.6 252.7L133.2 243.8L133.9 235.7L134.7 230.8L135.5 234.1L136.1 240.6L136.8 248.7L137.4 255.9L138.1 260.8L138.7 264L139.8 265.6L141.5 266.1L143.1 265.6L144.7 264L145.8 261.6L146.8 258.4L147.9 255.4L148.7 256.7L149.7 260L150.7 264L151.7 267.7L152.8 269.7L153.4 270.3z" fill="#000" stroke="none" stroke-width=".8" stroke-linejoin="round"/>
<rect x="24.4" y="180.6" width="42.9" height="42" fill="none" stroke="#6a6a6a" stroke-width=".75"/>
<rect x="24.4" y="228.4" width="42.9" height="42.2" fill="none" stroke="#6a6a6a" stroke-width=".75"/>
<rect x="73.4" y="180.6" width="42.9" height="42" fill="none" stroke="#6a6a6a" stroke-width=".75"/>
<rect x="73.4" y="228.4" width="42.9" height="42.2" fill="none" stroke="#6a6a6a" stroke-width=".75"/>
<rect x="122.1" y="180.6" width="42.9" height="42" fill="none" stroke="#6a6a6a" stroke-width=".75"/>
<rect x="122.1" y="228.4" width="42.9" height="42.2" fill="none" stroke="#6a6a6a" stroke-width=".75"/>
<circle cx="33" cy="283.4" r="3.5" fill="#2e2e2e" stroke="#000" stroke-width=".8"/>
<path d="M29.2 293.2L36.6 293.2" stroke="#000" stroke-width="1.5" fill="none"/>
<text x="45.8" y="285.9" font-size="7.2" textLength="24.2" lengthAdjust="spacingAndGlyphs">IPEX08</text>
<text x="45.8" y="295.5" font-size="7.2" textLength="10.3" lengthAdjust="spacingAndGlyphs">HD</text>
<path d="M212.4 180.6V260.2H291.3" stroke="#000" stroke-width="1.5" fill="none"/>
<path d="M209.4 260.2L212.4 260.2" stroke="#000" stroke-width="1.2" fill="none"/>
<text x="208.8" y="262.35" font-size="6.2" text-anchor="end" textLength="3.1" lengthAdjust="spacingAndGlyphs">0</text>
<path d="M209.4 244.36L212.4 244.36" stroke="#000" stroke-width="1.2" fill="none"/>
<text x="208.8" y="246.51" font-size="6.2" text-anchor="end" textLength="12.4" lengthAdjust="spacingAndGlyphs">1000</text>
<path d="M209.4 228.52L212.4 228.52" stroke="#000" stroke-width="1.2" fill="none"/>
<text x="208.8" y="230.67" font-size="6.2" text-anchor="end" textLength="12.4" lengthAdjust="spacingAndGlyphs">2000</text>
<path d="M209.4 212.68L212.4 212.68" stroke="#000" stroke-width="1.2" fill="none"/>
<text x="208.8" y="214.83" font-size="6.2" text-anchor="end" textLength="12.4" lengthAdjust="spacingAndGlyphs">3000</text>
<path d="M209.4 196.84L212.4 196.84" stroke="#000" stroke-width="1.2" fill="none"/>
<text x="208.8" y="198.99" font-size="6.2" text-anchor="end" textLength="12.4" lengthAdjust="spacingAndGlyphs">4000</text>
<path d="M209.4 181L212.4 181" stroke="#000" stroke-width="1.2" fill="none"/>
<text x="208.8" y="183.15" font-size="6.2" text-anchor="end" textLength="12.4" lengthAdjust="spacingAndGlyphs">5000</text>
<path d="M221.8 260.2L221.8 263" stroke="#000" stroke-width="1.2" fill="none"/>
<text x="222" y="269.2" font-size="5.8" text-anchor="middle" textLength="8.3" lengthAdjust="spacingAndGlyphs">HD</text>
<path d="M241.7 260.2L241.7 263" stroke="#000" stroke-width="1.2" fill="none"/>
<text x="241.9" y="269.2" font-size="5.8" text-anchor="middle" textLength="12.8" lengthAdjust="spacingAndGlyphs">IPEX</text>
<path d="M261.9 260.2L261.9 263" stroke="#000" stroke-width="1.2" fill="none"/>
<text x="262.1" y="269.2" font-size="5.8" text-anchor="middle" textLength="8.3" lengthAdjust="spacingAndGlyphs">HD</text>
<path d="M281.8 260.2L281.8 263" stroke="#000" stroke-width="1.2" fill="none"/>
<text x="282" y="269.2" font-size="5.8" text-anchor="middle" textLength="12.8" lengthAdjust="spacingAndGlyphs">IPEX</text>
<path d="M220.8 273.9L241.7 273.9" stroke="#000" stroke-width="1" fill="none"/>
<path d="M261.9 273.9L282.3 273.9" stroke="#000" stroke-width="1" fill="none"/>
<text x="214" y="281.4" font-size="5.4" textLength="37.6" lengthAdjust="spacingAndGlyphs">FOXP3-Helios-</text>
<text x="253.2" y="281.4" font-size="5.4" textLength="40.4" lengthAdjust="spacingAndGlyphs">FOXP3+Helios+</text>
<text x="252.2" y="169.5" font-size="7.5" text-anchor="middle" textLength="18.8" lengthAdjust="spacingAndGlyphs">CD25</text>
<text x="191.2" y="220.4" font-size="6" text-anchor="middle" textLength="10.1" lengthAdjust="spacingAndGlyphs" transform="rotate(-90 191.2 220.4)">MFI</text>
<path d="M325.5 180.6V260.2H404.5" stroke="#000" stroke-width="1.5" fill="none"/>
<path d="M322.5 260.2L325.5 260.2" stroke="#000" stroke-width="1.2" fill="none"/>
<text x="321.9" y="262.35" font-size="6.2" text-anchor="end" textLength="3.1" lengthAdjust="spacingAndGlyphs">0</text>
<path d="M322.5 233.8L325.5 233.8" stroke="#000" stroke-width="1.2" fill="none"/>
<text x="321.9" y="235.95" font-size="6.2" text-anchor="end" textLength="8.6" lengthAdjust="spacingAndGlyphs">500</text>
<path d="M322.5 207.4L325.5 207.4" stroke="#000" stroke-width="1.2" fill="none"/>
<text x="321.9" y="209.55" font-size="6.2" text-anchor="end" textLength="12.4" lengthAdjust="spacingAndGlyphs">1000</text>
<path d="M322.5 181L325.5 181" stroke="#000" stroke-width="1.2" fill="none"/>
<text x="321.9" y="183.15" font-size="6.2" text-anchor="end" textLength="12.4" lengthAdjust="spacingAndGlyphs">1500</text>
<path d="M335.3 260.2L335.3 263" stroke="#000" stroke-width="1.2" fill="none"/>
<text x="335.5" y="269.2" font-size="5.8" text-anchor="middle" textLength="8.3" lengthAdjust="spacingAndGlyphs">HD</text>
<path d="M355.1 260.2L355.1 263" stroke="#000" stroke-width="1.2" fill="none"/>
<text x="355.3" y="269.2" font-size="5.8" text-anchor="middle" textLength="12.8" lengthAdjust="spacingAndGlyphs">IPEX</text>
<path d="M374.9 260.2L374.9 263" stroke="#000" stroke-width="1.2" fill="none"/>
<text x="375.1" y="269.2" font-size="5.8" text-anchor="middle" textLength="8.3" lengthAdjust="spacingAndGlyphs">HD</text>
<path d="M394.8 260.2L394.8 263" stroke="#000" stroke-width="1.2" fill="none"/>
<text x="395" y="269.2" font-size="5.8" text-anchor="middle" textLength="12.8" lengthAdjust="spacingAndGlyphs">IPEX</text>
<path d="M334.3 273.9L355.1 273.9" stroke="#000" stroke-width="1" fill="none"/>
<path d="M374.9 273.9L395.3 273.9" stroke="#000" stroke-width="1" fill="none"/>
<text x="327.5" y="281.4" font-size="5.4" textLength="37.6" lengthAdjust="spacingAndGlyphs">FOXP3-Helios-</text>
<text x="366.2" y="281.4" font-size="5.4" textLength="40.4" lengthAdjust="spacingAndGlyphs">FOXP3+Helios+</text>
<text x="365.3" y="169.5" font-size="7.5" text-anchor="middle" textLength="23.2" lengthAdjust="spacingAndGlyphs">CD127</text>
<text x="305.6" y="220.4" font-size="6" text-anchor="middle" textLength="10.1" lengthAdjust="spacingAndGlyphs" transform="rotate(-90 305.6 220.4)">MFI</text>
<path d="M437.3 180.6V260.2H516.3" stroke="#000" stroke-width="1.5" fill="none"/>
<path d="M434.3 260.2L437.3 260.2" stroke="#000" stroke-width="1.2" fill="none"/>
<text x="433.7" y="262.35" font-size="6.2" text-anchor="end" textLength="3.1" lengthAdjust="spacingAndGlyphs">0</text>
<path d="M434.3 244.36L437.3 244.36" stroke="#000" stroke-width="1.2" fill="none"/>
<text x="433.7" y="246.51" font-size="6.2" text-anchor="end" textLength="5.8" lengthAdjust="spacingAndGlyphs">20</text>
<path d="M434.3 228.52L437.3 228.52" stroke="#000" stroke-width="1.2" fill="none"/>
<text x="433.7" y="230.67" font-size="6.2" text-anchor="end" textLength="5.8" lengthAdjust="spacingAndGlyphs">40</text>
<path d="M434.3 212.68L437.3 212.68" stroke="#000" stroke-width="1.2" fill="none"/>
<text x="433.7" y="214.83" font-size="6.2" text-anchor="end" textLength="5.8" lengthAdjust="spacingAndGlyphs">60</text>
<path d="M434.3 196.84L437.3 196.84" stroke="#000" stroke-width="1.2" fill="none"/>
<text x="433.7" y="198.99" font-size="6.2" text-anchor="end" textLength="5.8" lengthAdjust="spacingAndGlyphs">80</text>
<path d="M434.3 181L437.3 181" stroke="#000" stroke-width="1.2" fill="none"/>
<text x="433.7" y="183.15" font-size="6.2" text-anchor="end" textLength="8.6" lengthAdjust="spacingAndGlyphs">100</text>
<path d="M446.8 260.2L446.8 263" stroke="#000" stroke-width="1.2" fill="none"/>
<text x="447" y="269.2" font-size="5.8" text-anchor="middle" textLength="8.3" lengthAdjust="spacingAndGlyphs">HD</text>
<path d="M466.9 260.2L466.9 263" stroke="#000" stroke-width="1.2" fill="none"/>
<text x="467.1" y="269.2" font-size="5.8" text-anchor="middle" textLength="12.8" lengthAdjust="spacingAndGlyphs">IPEX</text>
<path d="M487 260.2L487 263" stroke="#000" stroke-width="1.2" fill="none"/>
<text x="487.2" y="269.2" font-size="5.8" text-anchor="middle" textLength="8.3" lengthAdjust="spacingAndGlyphs">HD</text>
<path d="M507 260.2L507 263" stroke="#000" stroke-width="1.2" fill="none"/>
<text x="507.2" y="269.2" font-size="5.8" text-anchor="middle" textLength="12.8" lengthAdjust="spacingAndGlyphs">IPEX</text>
<path d="M445.8 273.9L466.9 273.9" stroke="#000" stroke-width="1" fill="none"/>
<path d="M487 273.9L507.5 273.9" stroke="#000" stroke-width="1" fill="none"/>
<text x="439" y="281.4" font-size="5.4" textLength="37.6" lengthAdjust="spacingAndGlyphs">FOXP3-Helios-</text>
<text x="478.3" y="281.4" font-size="5.4" textLength="40.4" lengthAdjust="spacingAndGlyphs">FOXP3+Helios+</text>
<text x="477.1" y="169.5" font-size="7.5" text-anchor="middle" textLength="30.6" lengthAdjust="spacingAndGlyphs">CD45RO</text>
<text x="419.8" y="221.3" font-size="6" text-anchor="middle" textLength="31" lengthAdjust="spacingAndGlyphs" transform="rotate(-90 419.8 221.3)">% positive</text>
<path d="M260.7 192V189H282.3V192" stroke="#000" stroke-width="1" fill="none"/>
<text x="259.2" y="185.1" font-size="6.1" textLength="26.3" lengthAdjust="spacingAndGlyphs"><tspan font-style="italic">P</tspan> = .0011</text>
<path d="M373.9 192V189H395.5V192" stroke="#000" stroke-width="1" fill="none"/>
<text x="373" y="185.1" font-size="6.1" textLength="26.9" lengthAdjust="spacingAndGlyphs"><tspan font-style="italic">P</tspan> = .0040</text>
<path d="M446 192V189H467.6V192" stroke="#000" stroke-width="1" fill="none"/>
<text x="443.4" y="185.1" font-size="6.1" textLength="27.1" lengthAdjust="spacingAndGlyphs"><tspan font-style="italic">P</tspan> = .0002</text>
<path d="M485.7 192V189H507.9V192" stroke="#000" stroke-width="1" fill="none"/>
<text x="483" y="185.1" font-size="6.1" textLength="26.9" lengthAdjust="spacingAndGlyphs"><tspan font-style="italic">P</tspan> &lt; .0001</text>
<path d="M214.8 258.4L216 255.2L218 252.8L219.4 251.8L221.4 253.4L223 252.8L224.4 251.2L226 250.6L227.4 251.8L228.6 254.2L230 258L228 260.8L224 262.6L220 262.6L216.6 260.8z" fill="#000" stroke="#000" stroke-width="1" stroke-linejoin="round"/>
<path d="M225.8 250.9l2.3 2.3l-2.3 2.3l-2.3 -2.3z" fill="#000" stroke="#000" stroke-width="1.2"/>
<path d="M225.8 251.8l1.5 1.5l-1.5 1.5l-1.5 -1.5z" fill="none" stroke="#fff" stroke-width=".45" opacity=".8"/>
<path d="M219 255l.5 .5l-.5 .5l-.5 -.5zM222.5 256.5l.5 .5l-.5 .5l-.5 -.5zM217.5 258l.5 .5l-.5 .5l-.5 -.5zM226.5 257l.5 .5l-.5 .5l-.5 -.5zM221 259.5l.5 .5l-.5 .5l-.5 -.5zM224.5 259l.5 .5l-.5 .5l-.5 -.5z" fill="#fff" opacity="0.45"/>
<path d="M238.6 254.9l2.7 2.7l-2.7 2.7l-2.7 -2.7zM241 253.9l2.7 2.7l-2.7 2.7l-2.7 -2.7zM243 254.1l2.7 2.7l-2.7 2.7l-2.7 -2.7zM245 255.1l2.7 2.7l-2.7 2.7l-2.7 -2.7zM241.8 255.9l2.7 2.7l-2.7 2.7l-2.7 -2.7zM241.6 257.3l2.7 2.7l-2.7 2.7l-2.7 -2.7z" fill="#000"/>
<path d="M235.6 257.5L248.6 257.5" stroke="#000" stroke-width="1.1" fill="none"/>
<path d="M253.8 228L269.6 228" stroke="#000" stroke-width="1.1" fill="none"/>
<path d="M260.8 247l2.6 2.6l-2.6 2.6l-2.6 -2.6z" fill="#fff" stroke="#000" stroke-width="1.15"/>
<path d="M265.3 244l2.6 2.6l-2.6 2.6l-2.6 -2.6z" fill="#fff" stroke="#000" stroke-width="1.15"/>
<path d="M257.2 242l2.6 2.6l-2.6 2.6l-2.6 -2.6z" fill="#fff" stroke="#000" stroke-width="1.15"/>
<path d="M266.6 241.6l2.6 2.6l-2.6 2.6l-2.6 -2.6z" fill="#fff" stroke="#000" stroke-width="1.15"/>
<path d="M261.6 240.8l2.6 2.6l-2.6 2.6l-2.6 -2.6z" fill="#fff" stroke="#000" stroke-width="1.15"/>
<path d="M261.36 237.32l2.6 2.6l-2.6 2.6l-2.6 -2.6z" fill="#fff" stroke="#000" stroke-width="1.15"/>
<path d="M259.79 235.31l2.6 2.6l-2.6 2.6l-2.6 -2.6z" fill="#fff" stroke="#000" stroke-width="1.15"/>
<path d="M263.11 234.33l2.6 2.6l-2.6 2.6l-2.6 -2.6z" fill="#fff" stroke="#000" stroke-width="1.15"/>
<path d="M258.66 232.65l2.6 2.6l-2.6 2.6l-2.6 -2.6z" fill="#fff" stroke="#000" stroke-width="1.15"/>
<path d="M261.15 232.45l2.6 2.6l-2.6 2.6l-2.6 -2.6z" fill="#fff" stroke="#000" stroke-width="1.15"/>
<path d="M264.48 232.57l2.6 2.6l-2.6 2.6l-2.6 -2.6z" fill="#fff" stroke="#000" stroke-width="1.15"/>
<path d="M257.76 230.06l2.6 2.6l-2.6 2.6l-2.6 -2.6z" fill="#fff" stroke="#000" stroke-width="1.15"/>
<path d="M260.63 229.95l2.6 2.6l-2.6 2.6l-2.6 -2.6z" fill="#fff" stroke="#000" stroke-width="1.15"/>
<path d="M263.34 229.79l2.6 2.6l-2.6 2.6l-2.6 -2.6z" fill="#fff" stroke="#000" stroke-width="1.15"/>
<path d="M266.05 230.5l2.6 2.6l-2.6 2.6l-2.6 -2.6z" fill="#fff" stroke="#000" stroke-width="1.15"/>
<path d="M256.19 227.26l2.6 2.6l-2.6 2.6l-2.6 -2.6z" fill="#fff" stroke="#000" stroke-width="1.15"/>
<path d="M258.99 227.39l2.6 2.6l-2.6 2.6l-2.6 -2.6z" fill="#fff" stroke="#000" stroke-width="1.15"/>
<path d="M262.16 227.57l2.6 2.6l-2.6 2.6l-2.6 -2.6z" fill="#fff" stroke="#000" stroke-width="1.15"/>
<path d="M264.92 227.4l2.6 2.6l-2.6 2.6l-2.6 -2.6z" fill="#fff" stroke="#000" stroke-width="1.15"/>
<path d="M267.98 227.85l2.6 2.6l-2.6 2.6l-2.6 -2.6z" fill="#fff" stroke="#000" stroke-width="1.15"/>
<path d="M255.47 225.9l2.6 2.6l-2.6 2.6l-2.6 -2.6z" fill="#fff" stroke="#000" stroke-width="1.15"/>
<path d="M259.05 225.67l2.6 2.6l-2.6 2.6l-2.6 -2.6z" fill="#fff" stroke="#000" stroke-width="1.15"/>
<path d="M261.51 225.08l2.6 2.6l-2.6 2.6l-2.6 -2.6z" fill="#fff" stroke="#000" stroke-width="1.15"/>
<path d="M264.66 225.82l2.6 2.6l-2.6 2.6l-2.6 -2.6z" fill="#fff" stroke="#000" stroke-width="1.15"/>
<path d="M267.68 225.65l2.6 2.6l-2.6 2.6l-2.6 -2.6z" fill="#fff" stroke="#000" stroke-width="1.15"/>
<path d="M256.72 222.85l2.6 2.6l-2.6 2.6l-2.6 -2.6z" fill="#fff" stroke="#000" stroke-width="1.15"/>
<path d="M259.9 222.94l2.6 2.6l-2.6 2.6l-2.6 -2.6z" fill="#fff" stroke="#000" stroke-width="1.15"/>
<path d="M263.25 223.02l2.6 2.6l-2.6 2.6l-2.6 -2.6z" fill="#fff" stroke="#000" stroke-width="1.15"/>
<path d="M265.35 222.67l2.6 2.6l-2.6 2.6l-2.6 -2.6z" fill="#fff" stroke="#000" stroke-width="1.15"/>
<path d="M258.86 220.31l2.6 2.6l-2.6 2.6l-2.6 -2.6z" fill="#fff" stroke="#000" stroke-width="1.15"/>
<path d="M261.46 220.03l2.6 2.6l-2.6 2.6l-2.6 -2.6z" fill="#fff" stroke="#000" stroke-width="1.15"/>
<path d="M263.96 220.39l2.6 2.6l-2.6 2.6l-2.6 -2.6z" fill="#fff" stroke="#000" stroke-width="1.15"/>
<path d="M259.81 217.56l2.6 2.6l-2.6 2.6l-2.6 -2.6z" fill="#fff" stroke="#000" stroke-width="1.15"/>
<path d="M262.54 218.1l2.6 2.6l-2.6 2.6l-2.6 -2.6z" fill="#fff" stroke="#000" stroke-width="1.15"/>
<path d="M265.03 218.36l2.6 2.6l-2.6 2.6l-2.6 -2.6z" fill="#fff" stroke="#000" stroke-width="1.15"/>
<path d="M259.6 215.9l2.6 2.6l-2.6 2.6l-2.6 -2.6z" fill="#fff" stroke="#000" stroke-width="1.15"/>
<path d="M261.31 215.56l2.6 2.6l-2.6 2.6l-2.6 -2.6z" fill="#fff" stroke="#000" stroke-width="1.15"/>
<path d="M264.18 215l2.6 2.6l-2.6 2.6l-2.6 -2.6z" fill="#fff" stroke="#000" stroke-width="1.15"/>
<path d="M260.14 213.08l2.6 2.6l-2.6 2.6l-2.6 -2.6z" fill="#fff" stroke="#000" stroke-width="1.15"/>
<path d="M262.51 212.42l2.6 2.6l-2.6 2.6l-2.6 -2.6z" fill="#fff" stroke="#000" stroke-width="1.15"/>
<path d="M259.75 210.78l2.6 2.6l-2.6 2.6l-2.6 -2.6z" fill="#fff" stroke="#000" stroke-width="1.15"/>
<path d="M261.05 210.04l2.6 2.6l-2.6 2.6l-2.6 -2.6z" fill="#fff" stroke="#000" stroke-width="1.15"/>
<path d="M263.61 210.44l2.6 2.6l-2.6 2.6l-2.6 -2.6z" fill="#fff" stroke="#000" stroke-width="1.15"/>
<path d="M257.4 206.6l2.6 2.6l-2.6 2.6l-2.6 -2.6z" fill="#fff" stroke="#000" stroke-width="1.15"/>
<path d="M266.2 207.2l2.6 2.6l-2.6 2.6l-2.6 -2.6z" fill="#fff" stroke="#000" stroke-width="1.15"/>
<path d="M261.9 209l2.6 2.6l-2.6 2.6l-2.6 -2.6z" fill="#fff" stroke="#000" stroke-width="1.15"/>
<path d="M265.3 202.8l2.6 2.6l-2.6 2.6l-2.6 -2.6z" fill="#fff" stroke="#000" stroke-width="1.15"/>
<path d="M258.2 203l2.6 2.6l-2.6 2.6l-2.6 -2.6z" fill="#fff" stroke="#000" stroke-width="1.15"/>
<path d="M260.4 200.3l2.6 2.6l-2.6 2.6l-2.6 -2.6z" fill="#fff" stroke="#000" stroke-width="1.15"/>
<path d="M255.6 228.4L258 224.5L265 224.5L267.6 228.4L261.6 238.6z" fill="#000" stroke="#000" stroke-width="1" stroke-linejoin="round" opacity="0.45"/>
<path d="M260.63 233.75l2.4 2.4l-2.4 2.4l-2.4 -2.4z" fill="none" stroke="#000" stroke-width="1.1"/>
<path d="M263.13 234.04l2.4 2.4l-2.4 2.4l-2.4 -2.4z" fill="none" stroke="#000" stroke-width="1.1"/>
<path d="M258.93 231.19l2.4 2.4l-2.4 2.4l-2.4 -2.4z" fill="none" stroke="#000" stroke-width="1.1"/>
<path d="M261.83 230.71l2.4 2.4l-2.4 2.4l-2.4 -2.4z" fill="none" stroke="#000" stroke-width="1.1"/>
<path d="M264.98 231.39l2.4 2.4l-2.4 2.4l-2.4 -2.4z" fill="none" stroke="#000" stroke-width="1.1"/>
<path d="M256.86 227.61l2.4 2.4l-2.4 2.4l-2.4 -2.4z" fill="none" stroke="#000" stroke-width="1.1"/>
<path d="M260.46 228.38l2.4 2.4l-2.4 2.4l-2.4 -2.4z" fill="none" stroke="#000" stroke-width="1.1"/>
<path d="M262.93 228.53l2.4 2.4l-2.4 2.4l-2.4 -2.4z" fill="none" stroke="#000" stroke-width="1.1"/>
<path d="M266.08 228.11l2.4 2.4l-2.4 2.4l-2.4 -2.4z" fill="none" stroke="#000" stroke-width="1.1"/>
<path d="M255.34 225.08l2.4 2.4l-2.4 2.4l-2.4 -2.4z" fill="none" stroke="#000" stroke-width="1.1"/>
<path d="M258.58 225.04l2.4 2.4l-2.4 2.4l-2.4 -2.4z" fill="none" stroke="#000" stroke-width="1.1"/>
<path d="M261.44 225.45l2.4 2.4l-2.4 2.4l-2.4 -2.4z" fill="none" stroke="#000" stroke-width="1.1"/>
<path d="M264.37 224.7l2.4 2.4l-2.4 2.4l-2.4 -2.4z" fill="none" stroke="#000" stroke-width="1.1"/>
<path d="M267.15 225.44l2.4 2.4l-2.4 2.4l-2.4 -2.4z" fill="none" stroke="#000" stroke-width="1.1"/>
<path d="M258.72 222.45l2.4 2.4l-2.4 2.4l-2.4 -2.4z" fill="none" stroke="#000" stroke-width="1.1"/>
<path d="M261.98 223.08l2.4 2.4l-2.4 2.4l-2.4 -2.4z" fill="none" stroke="#000" stroke-width="1.1"/>
<path d="M264.42 222.24l2.4 2.4l-2.4 2.4l-2.4 -2.4z" fill="none" stroke="#000" stroke-width="1.1"/>
<path d="M281.1 239.5l2.9 2.9l-2.9 2.9l-2.9 -2.9zM286.8 242.2l2.9 2.9l-2.9 2.9l-2.9 -2.9zM277.3 246.3l2.9 2.9l-2.9 2.9l-2.9 -2.9zM281.1 249.6l2.9 2.9l-2.9 2.9l-2.9 -2.9zM284.5 248.5l2.9 2.9l-2.9 2.9l-2.9 -2.9z" fill="#000"/>
<path d="M278.5 247.6L288 247.6" stroke="#999" stroke-width=".8" fill="none"/>
<path d="M330.4 209L339.6 209L340 212L338.8 217L337.2 222L335.6 226L334.9 227.6L334 226L332.4 222L331 217L330 212z" fill="#000" stroke="#000" stroke-width="1" stroke-linejoin="round" opacity="0.7"/>
<path d="M328.6 215.2L342.2 215.2" stroke="#000" stroke-width="1" fill="none"/>
<path d="M334.76 224.79l2.3 2.3l-2.3 2.3l-2.3 -2.3z" fill="none" stroke="#000" stroke-width="1.1"/>
<path d="M335.2 223.07l2.3 2.3l-2.3 2.3l-2.3 -2.3z" fill="none" stroke="#000" stroke-width="1.1"/>
<path d="M333.51 220.82l2.3 2.3l-2.3 2.3l-2.3 -2.3z" fill="none" stroke="#000" stroke-width="1.1"/>
<path d="M336.43 221.1l2.3 2.3l-2.3 2.3l-2.3 -2.3z" fill="none" stroke="#000" stroke-width="1.1"/>
<path d="M333.39 218.47l2.3 2.3l-2.3 2.3l-2.3 -2.3z" fill="none" stroke="#000" stroke-width="1.1"/>
<path d="M336.27 218.45l2.3 2.3l-2.3 2.3l-2.3 -2.3z" fill="none" stroke="#000" stroke-width="1.1"/>
<path d="M332.42 216.27l2.3 2.3l-2.3 2.3l-2.3 -2.3z" fill="none" stroke="#000" stroke-width="1.1"/>
<path d="M334.83 216.36l2.3 2.3l-2.3 2.3l-2.3 -2.3z" fill="none" stroke="#000" stroke-width="1.1"/>
<path d="M337.32 216.14l2.3 2.3l-2.3 2.3l-2.3 -2.3z" fill="none" stroke="#000" stroke-width="1.1"/>
<path d="M332.33 214.32l2.3 2.3l-2.3 2.3l-2.3 -2.3z" fill="none" stroke="#000" stroke-width="1.1"/>
<path d="M334.62 214.08l2.3 2.3l-2.3 2.3l-2.3 -2.3z" fill="none" stroke="#000" stroke-width="1.1"/>
<path d="M337.19 214.44l2.3 2.3l-2.3 2.3l-2.3 -2.3z" fill="none" stroke="#000" stroke-width="1.1"/>
<path d="M330.76 211.78l2.3 2.3l-2.3 2.3l-2.3 -2.3z" fill="none" stroke="#000" stroke-width="1.1"/>
<path d="M334.02 212.07l2.3 2.3l-2.3 2.3l-2.3 -2.3z" fill="none" stroke="#000" stroke-width="1.1"/>
<path d="M335.94 212.09l2.3 2.3l-2.3 2.3l-2.3 -2.3z" fill="none" stroke="#000" stroke-width="1.1"/>
<path d="M338.65 211.58l2.3 2.3l-2.3 2.3l-2.3 -2.3z" fill="none" stroke="#000" stroke-width="1.1"/>
<path d="M330.83 209.34l2.3 2.3l-2.3 2.3l-2.3 -2.3z" fill="none" stroke="#000" stroke-width="1.1"/>
<path d="M333.48 209.63l2.3 2.3l-2.3 2.3l-2.3 -2.3z" fill="none" stroke="#000" stroke-width="1.1"/>
<path d="M336.53 210.01l2.3 2.3l-2.3 2.3l-2.3 -2.3z" fill="none" stroke="#000" stroke-width="1.1"/>
<path d="M338.69 209.83l2.3 2.3l-2.3 2.3l-2.3 -2.3z" fill="none" stroke="#000" stroke-width="1.1"/>
<path d="M331.25 207.75l2.3 2.3l-2.3 2.3l-2.3 -2.3z" fill="none" stroke="#000" stroke-width="1.1"/>
<path d="M333.55 207.62l2.3 2.3l-2.3 2.3l-2.3 -2.3z" fill="none" stroke="#000" stroke-width="1.1"/>
<path d="M335.92 207.28l2.3 2.3l-2.3 2.3l-2.3 -2.3z" fill="none" stroke="#000" stroke-width="1.1"/>
<path d="M338.46 207.42l2.3 2.3l-2.3 2.3l-2.3 -2.3z" fill="none" stroke="#000" stroke-width="1.1"/>
<path d="M332.4 203.1l2.5 2.5l-2.5 2.5l-2.5 -2.5z" fill="#fff" stroke="#000" stroke-width="1.15"/>
<path d="M337.8 202.1l2.5 2.5l-2.5 2.5l-2.5 -2.5z" fill="#fff" stroke="#000" stroke-width="1.15"/>
<path d="M330.4 200l2.5 2.5l-2.5 2.5l-2.5 -2.5z" fill="#fff" stroke="#000" stroke-width="1.15"/>
<path d="M340.1 197.4l2.5 2.5l-2.5 2.5l-2.5 -2.5z" fill="#fff" stroke="#000" stroke-width="1.15"/>
<path d="M335 205.1l2.5 2.5l-2.5 2.5l-2.5 -2.5z" fill="#fff" stroke="#000" stroke-width="1.15"/>
<path d="M331.2 205.9l2.5 2.5l-2.5 2.5l-2.5 -2.5z" fill="#fff" stroke="#000" stroke-width="1.15"/>
<path d="M338.8 205.3l2.5 2.5l-2.5 2.5l-2.5 -2.5z" fill="#fff" stroke="#000" stroke-width="1.15"/>
<path d="M355 204.4l2.9 2.9l-2.9 2.9l-2.9 -2.9zM350.4 217.1l2.9 2.9l-2.9 2.9l-2.9 -2.9zM359.8 215.1l2.9 2.9l-2.9 2.9l-2.9 -2.9zM357.3 218.4l2.9 2.9l-2.9 2.9l-2.9 -2.9zM354 222l2.9 2.9l-2.9 2.9l-2.9 -2.9z" fill="#000"/>
<path d="M352.4 218.5L357.6 218.5" stroke="#999" stroke-width=".8" fill="none"/>
<path d="M371.8 238L377.8 238L379.8 241.4L381.2 245.2L378.2 249.2L374.8 253L371.4 249.2L368.6 245.2L370 241.4z" fill="#000" stroke="#000" stroke-width="1" stroke-linejoin="round" opacity="0.7"/>
<path d="M367 244.8L382.8 244.8" stroke="#000" stroke-width="1" fill="none"/>
<path d="M374.64 250.38l2.3 2.3l-2.3 2.3l-2.3 -2.3z" fill="none" stroke="#000" stroke-width="1.1"/>
<path d="M373.13 247.95l2.3 2.3l-2.3 2.3l-2.3 -2.3z" fill="none" stroke="#000" stroke-width="1.1"/>
<path d="M376.18 248.34l2.3 2.3l-2.3 2.3l-2.3 -2.3z" fill="none" stroke="#000" stroke-width="1.1"/>
<path d="M371.13 245.64l2.3 2.3l-2.3 2.3l-2.3 -2.3z" fill="none" stroke="#000" stroke-width="1.1"/>
<path d="M373.6 245.32l2.3 2.3l-2.3 2.3l-2.3 -2.3z" fill="none" stroke="#000" stroke-width="1.1"/>
<path d="M376.44 245.83l2.3 2.3l-2.3 2.3l-2.3 -2.3z" fill="none" stroke="#000" stroke-width="1.1"/>
<path d="M378.93 245.39l2.3 2.3l-2.3 2.3l-2.3 -2.3z" fill="none" stroke="#000" stroke-width="1.1"/>
<path d="M368.23 242.94l2.3 2.3l-2.3 2.3l-2.3 -2.3z" fill="none" stroke="#000" stroke-width="1.1"/>
<path d="M371.17 243.31l2.3 2.3l-2.3 2.3l-2.3 -2.3z" fill="none" stroke="#000" stroke-width="1.1"/>
<path d="M373.23 243.48l2.3 2.3l-2.3 2.3l-2.3 -2.3z" fill="none" stroke="#000" stroke-width="1.1"/>
<path d="M375.86 242.81l2.3 2.3l-2.3 2.3l-2.3 -2.3z" fill="none" stroke="#000" stroke-width="1.1"/>
<path d="M378.75 243.05l2.3 2.3l-2.3 2.3l-2.3 -2.3z" fill="none" stroke="#000" stroke-width="1.1"/>
<path d="M381.66 242.74l2.3 2.3l-2.3 2.3l-2.3 -2.3z" fill="none" stroke="#000" stroke-width="1.1"/>
<path d="M369.93 240.67l2.3 2.3l-2.3 2.3l-2.3 -2.3z" fill="none" stroke="#000" stroke-width="1.1"/>
<path d="M372.05 240.22l2.3 2.3l-2.3 2.3l-2.3 -2.3z" fill="none" stroke="#000" stroke-width="1.1"/>
<path d="M374.96 240.13l2.3 2.3l-2.3 2.3l-2.3 -2.3z" fill="none" stroke="#000" stroke-width="1.1"/>
<path d="M377.23 240.17l2.3 2.3l-2.3 2.3l-2.3 -2.3z" fill="none" stroke="#000" stroke-width="1.1"/>
<path d="M379.88 240.89l2.3 2.3l-2.3 2.3l-2.3 -2.3z" fill="none" stroke="#000" stroke-width="1.1"/>
<path d="M371.18 237.94l2.3 2.3l-2.3 2.3l-2.3 -2.3z" fill="none" stroke="#000" stroke-width="1.1"/>
<path d="M373.62 238.01l2.3 2.3l-2.3 2.3l-2.3 -2.3z" fill="none" stroke="#000" stroke-width="1.1"/>
<path d="M376.33 238.16l2.3 2.3l-2.3 2.3l-2.3 -2.3z" fill="none" stroke="#000" stroke-width="1.1"/>
<path d="M379.07 238.26l2.3 2.3l-2.3 2.3l-2.3 -2.3z" fill="none" stroke="#000" stroke-width="1.1"/>
<path d="M372.07 235.86l2.3 2.3l-2.3 2.3l-2.3 -2.3z" fill="none" stroke="#000" stroke-width="1.1"/>
<path d="M374.6 235.19l2.3 2.3l-2.3 2.3l-2.3 -2.3z" fill="none" stroke="#000" stroke-width="1.1"/>
<path d="M377.52 235.14l2.3 2.3l-2.3 2.3l-2.3 -2.3z" fill="none" stroke="#000" stroke-width="1.1"/>
<path d="M374.7 225.2l2.4 2.4l-2.4 2.4l-2.4 -2.4z" fill="#fff" stroke="#000" stroke-width="1.15"/>
<path d="M372.9 229.2l2.4 2.4l-2.4 2.4l-2.4 -2.4z" fill="#fff" stroke="#000" stroke-width="1.15"/>
<path d="M376.9 229.2l2.4 2.4l-2.4 2.4l-2.4 -2.4z" fill="#fff" stroke="#000" stroke-width="1.15"/>
<path d="M374.8 232.2l2.4 2.4l-2.4 2.4l-2.4 -2.4z" fill="#fff" stroke="#000" stroke-width="1.15"/>
<path d="M371.6 233.6l2.4 2.4l-2.4 2.4l-2.4 -2.4z" fill="#fff" stroke="#000" stroke-width="1.15"/>
<path d="M378 233.6l2.4 2.4l-2.4 2.4l-2.4 -2.4z" fill="#fff" stroke="#000" stroke-width="1.15"/>
<path d="M388.4 235.1L401.4 235.1" stroke="#000" stroke-width="1.1" fill="none"/>
<path d="M393 225.5l2.8 2.8l-2.8 2.8l-2.8 -2.8zM393.8 233.4l2.8 2.8l-2.8 2.8l-2.8 -2.8zM395.8 234.6l2.8 2.8l-2.8 2.8l-2.8 -2.8z" fill="#000"/>
<path d="M446.4 256.5l2.8 2.8l-2.8 2.8l-2.8 -2.8z" fill="#fff" stroke="#000" stroke-width="1.1"/>
<path d="M447.3 254.2l2.8 2.8l-2.8 2.8l-2.8 -2.8z" fill="#fff" stroke="#000" stroke-width="1.1"/>
<path d="M444.7 252.5l2.8 2.8l-2.8 2.8l-2.8 -2.8z" fill="#fff" stroke="#000" stroke-width="1.1"/>
<path d="M449.9 252l2.8 2.8l-2.8 2.8l-2.8 -2.8z" fill="#fff" stroke="#000" stroke-width="1.1"/>
<path d="M442.1 249.9l2.8 2.8l-2.8 2.8l-2.8 -2.8z" fill="#fff" stroke="#000" stroke-width="1.1"/>
<path d="M452.1 249l2.8 2.8l-2.8 2.8l-2.8 -2.8z" fill="#fff" stroke="#000" stroke-width="1.1"/>
<path d="M446.9 255.9l1.7 1.7l-1.7 1.7l-1.7 -1.7z" fill="#000"/>
<path d="M460.3 233.3L474.1 233.3" stroke="#000" stroke-width="1" fill="none"/>
<path d="M463.7 233.9l2.9 2.9l-2.9 2.9l-2.9 -2.9zM470.7 227.3l2.9 2.9l-2.9 2.9l-2.9 -2.9z" fill="#000"/>
<path d="M480.2 246.1L493.1 246.1" stroke="#000" stroke-width="1" fill="none"/>
<path d="M486.7 247.4l2.8 2.8l-2.8 2.8l-2.8 -2.8z" fill="#fff" stroke="#000" stroke-width="1.1"/>
<path d="M485.5 245.7l2.8 2.8l-2.8 2.8l-2.8 -2.8z" fill="#fff" stroke="#000" stroke-width="1.1"/>
<path d="M488.2 246l2.8 2.8l-2.8 2.8l-2.8 -2.8z" fill="#fff" stroke="#000" stroke-width="1.1"/>
<path d="M489.7 243.8l2.8 2.8l-2.8 2.8l-2.8 -2.8z" fill="#fff" stroke="#000" stroke-width="1.1"/>
<path d="M485 239.5l2.8 2.8l-2.8 2.8l-2.8 -2.8z" fill="#fff" stroke="#000" stroke-width="1.1"/>
<path d="M487.1 235.2l2.8 2.8l-2.8 2.8l-2.8 -2.8z" fill="#fff" stroke="#000" stroke-width="1.1"/>
<path d="M486.8 247.6l2.4 2.4l-2.4 2.4l-2.4 -2.4z" fill="#000"/>
<path d="M500.5 204.3L513.6 204.3" stroke="#000" stroke-width="1" fill="none"/>
<path d="M507.3 196.3l2.9 2.9l-2.9 2.9l-2.9 -2.9zM507.3 206.4l2.9 2.9l-2.9 2.9l-2.9 -2.9z" fill="#000"/>
</svg>
</body></html>
